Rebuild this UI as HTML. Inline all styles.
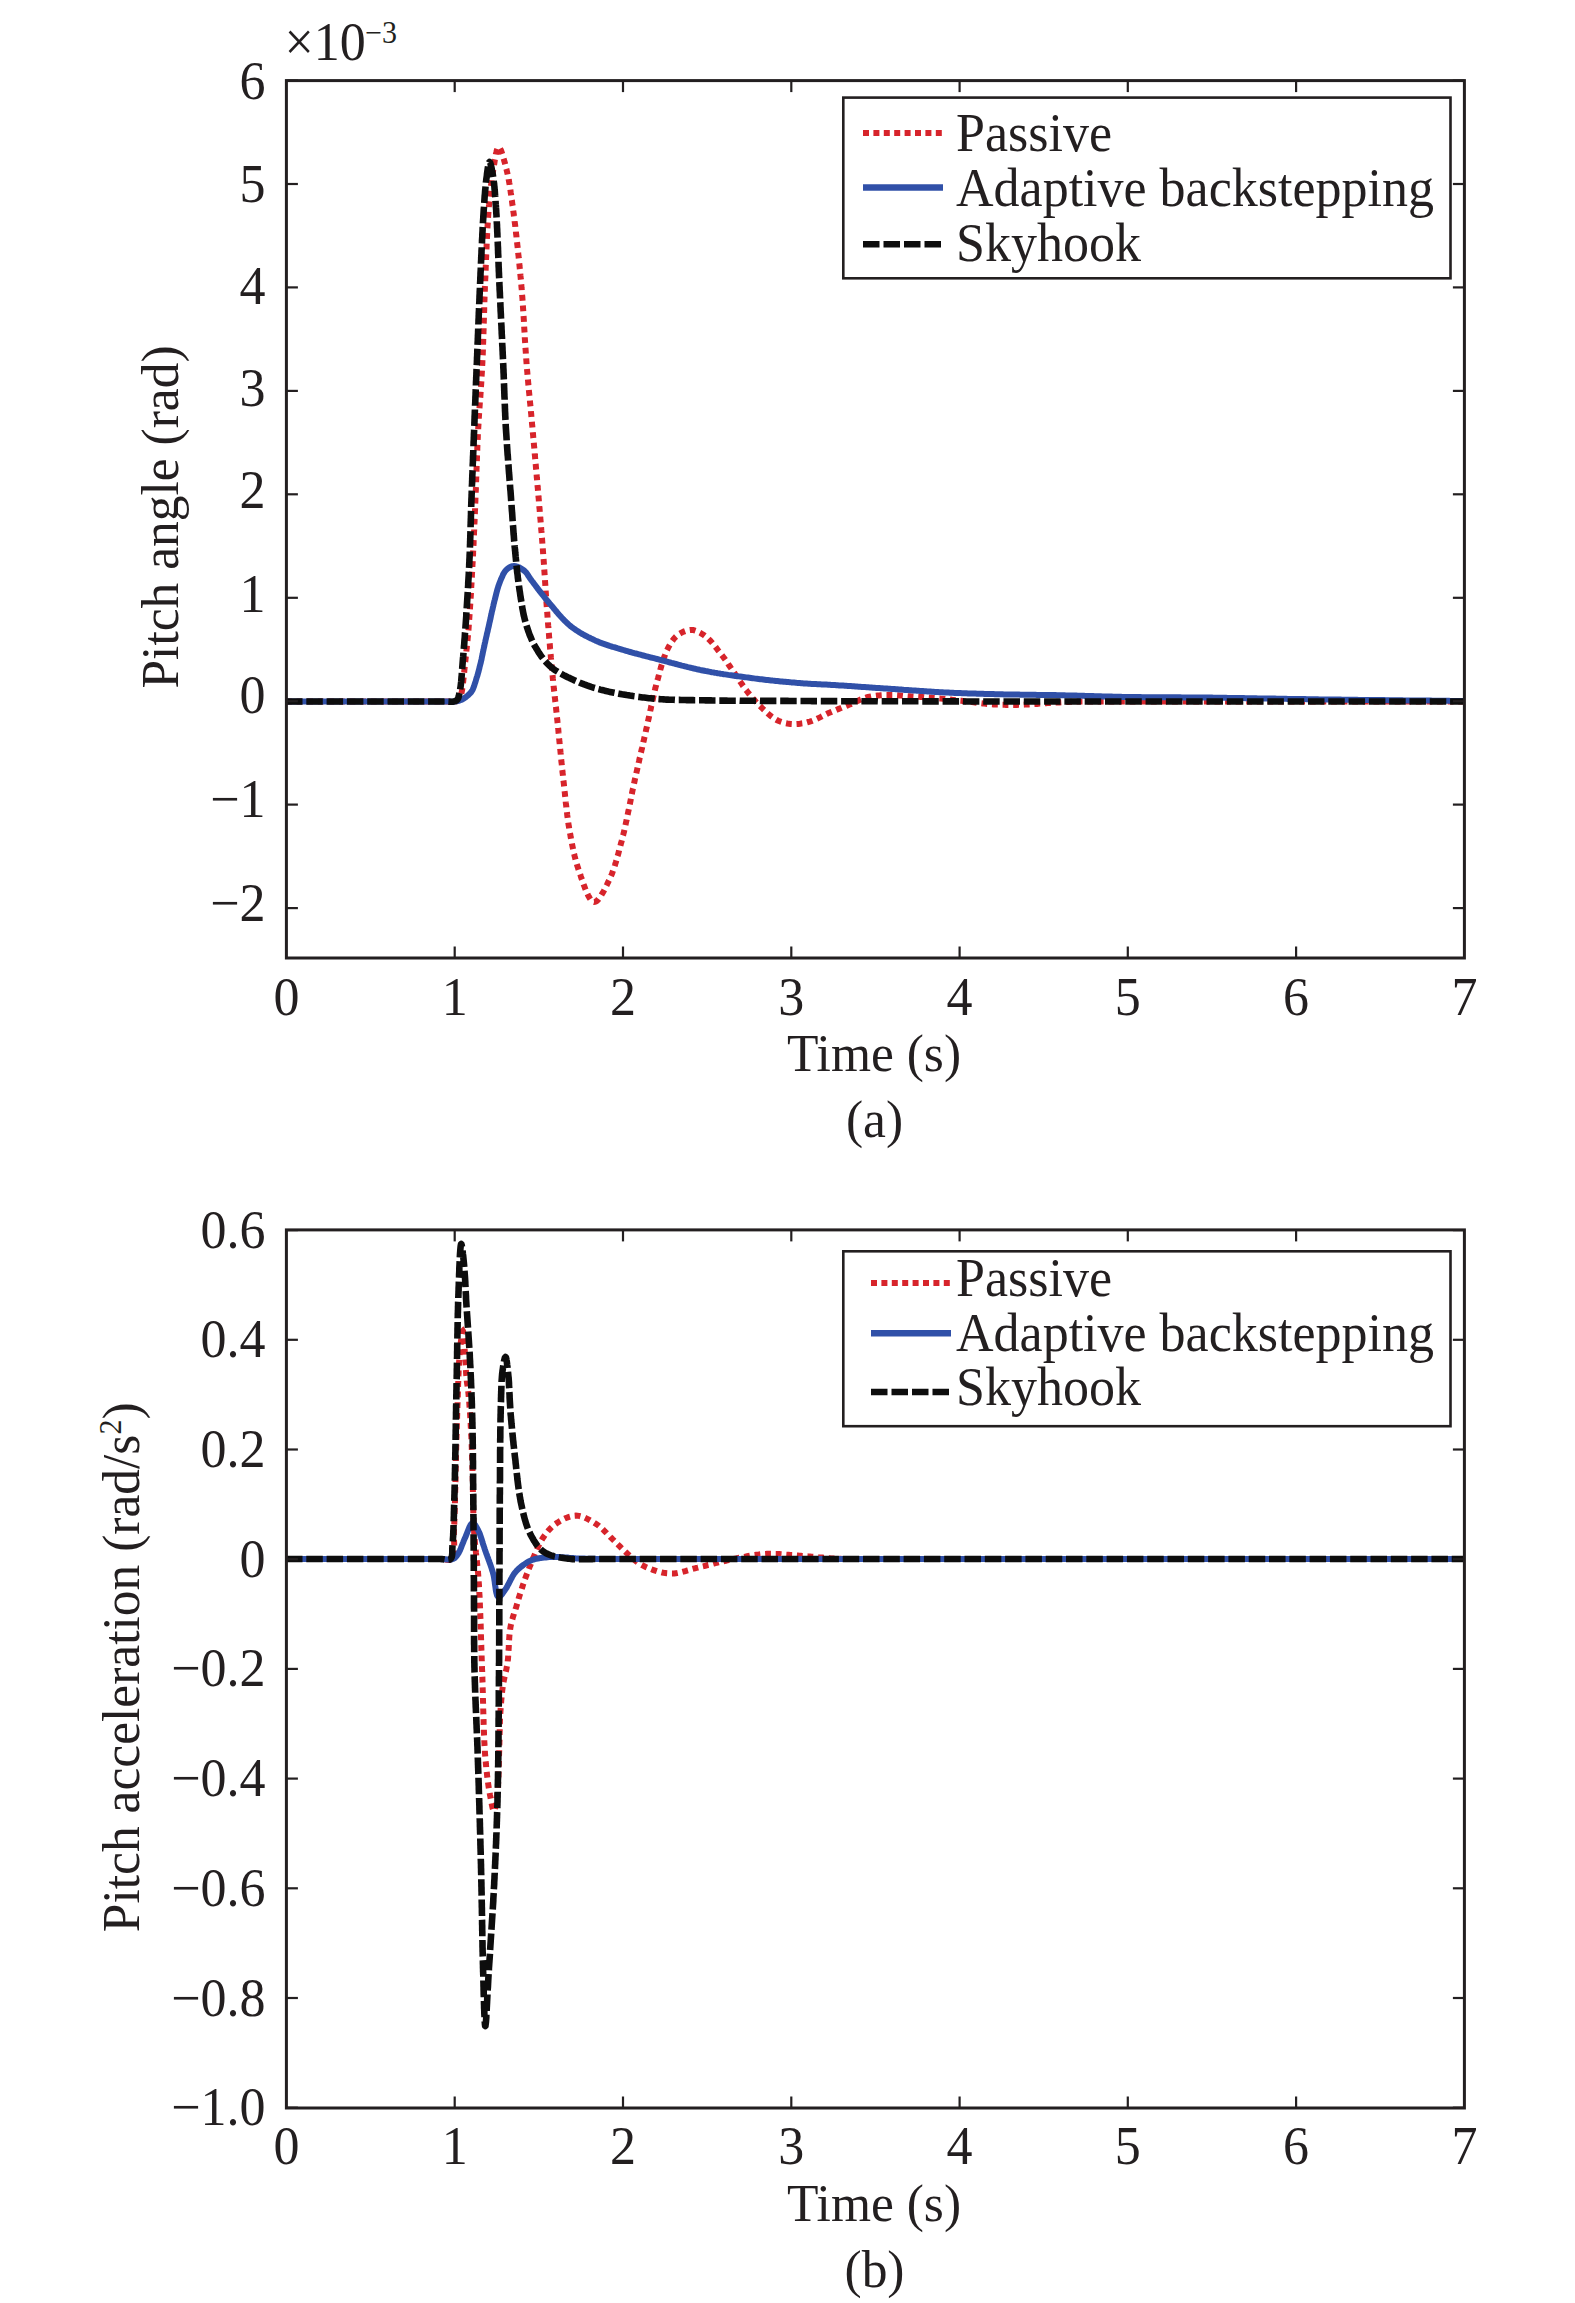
<!DOCTYPE html><html><head><meta charset="utf-8"><style>html,body{margin:0;padding:0;background:#fff;}svg{display:block;}text{font-family:"Liberation Serif",serif;fill:#231f20;}</style></head><body>
<svg width="1575" height="2303" viewBox="0 0 1575 2303">
<path d="M286,701.5L287.5,701.5 289,701.5 290.6,701.5 292.1,701.5 293.7,701.5 295.3,701.5 296.9,701.5 298.5,701.5 300.1,701.5 301.7,701.5 303.4,701.5 305,701.5 306.7,701.5 308.3,701.5 310,701.5 311.7,701.5 313.4,701.5 315.1,701.5 316.8,701.5 318.5,701.5 320.3,701.5 322,701.5 323.7,701.5 325.5,701.5 327.2,701.5 328.9,701.5 330.7,701.5 332.4,701.5 334.2,701.5 336,701.5 337.7,701.5 339.5,701.5 341.2,701.5 343,701.5 344.7,701.5 346.5,701.5 348.2,701.5 350,701.5 351.7,701.5 353.5,701.5 355.2,701.5 356.9,701.5 358.7,701.5 360.4,701.5 362.1,701.5 363.8,701.5 365.5,701.5 367.2,701.5 368.9,701.5 370.6,701.5 372.3,701.5 373.9,701.5 375.6,701.5 377.2,701.5 378.8,701.5 380.5,701.5 382.1,701.5 383.7,701.5 385.2,701.5 386.8,701.5 388.4,701.5 389.9,701.5 391.4,701.5 392.9,701.5 394.4,701.5 395.9,701.5 397.3,701.5 398.8,701.5 400.2,701.5 401.6,701.5 403,701.5 404.4,701.5 405.7,701.5 407,701.5 408.3,701.5 409.6,701.5 410.9,701.5 412.1,701.5 413.3,701.5 414.5,701.5 415.7,701.5 416.8,701.5 418,701.5 419.1,701.5 420.1,701.5 421.2,701.5 422.2,701.5 423.2,701.5 424.1,701.5 425.1,701.5 426,701.5 426.8,701.5 427.7,701.5 428.5,701.5 429.3,701.5 430,701.5 432.1,701.5 434,701.5 435.7,701.5 437.2,701.5 438.6,701.5 439.9,701.5 441.2,701.5 442.4,701.5 443.7,701.5 445,701.5 446.7,701.5 448.5,701.6 450.2,701.8 451.8,701.8 453.4,701.9 454.8,701.8 456,701.5 458,700.5 459.5,699 460.2,697.8 460.7,696.3 461.1,694.7 461.5,693 461.8,691.5 462.1,690 462.3,688.3 462.6,686.6 462.8,684.8 463,683 463.2,681.6 463.3,680.2 463.5,678.7 463.7,677.2 463.8,675.7 464,674.1 464.2,672.4 464.3,670.7 464.5,668.9 464.7,667 464.8,665.8 465,664.6 465.1,663.3 465.2,662 465.4,660.7 465.5,659.4 465.7,658 465.8,656.6 466,655.2 466.1,653.7 466.3,652.2 466.4,650.7 466.6,649.2 466.8,647.6 466.9,646.1 467.1,644.5 467.2,642.9 467.4,641.3 467.6,639.7 467.7,638 467.9,636.4 468,634.7 468.2,633.1 468.3,631.4 468.5,629.7 468.6,628 468.7,626.7 468.8,625.3 468.9,624 469,622.6 469.1,621.2 469.2,619.8 469.3,618.4 469.4,616.9 469.5,615.5 469.6,614 469.7,612.5 469.8,611.1 469.9,609.6 470,608.1 470.1,606.6 470.2,605 470.3,603.5 470.4,602 470.5,600.4 470.6,598.9 470.7,597.3 470.8,595.8 470.9,594.2 471,592.6 471.1,591.1 471.2,589.5 471.2,587.9 471.3,586.3 471.4,584.8 471.5,583.2 471.6,581.6 471.7,580 471.8,578.5 471.9,576.9 471.9,575.3 472,573.8 472.1,572.2 472.2,570.7 472.3,569.1 472.4,567.6 472.4,566 472.5,564.5 472.6,563 472.7,561.5 472.8,560 472.8,558.5 472.9,557 473,555.4 473.1,553.9 473.1,552.4 473.2,550.9 473.3,549.4 473.4,547.9 473.4,546.4 473.5,544.9 473.6,543.4 473.6,541.8 473.7,540.3 473.8,538.8 473.8,537.3 473.9,535.8 474,534.3 474,532.8 474.1,531.3 474.2,529.7 474.2,528.2 474.3,526.7 474.4,525.2 474.4,523.7 474.5,522.2 474.6,520.7 474.6,519.2 474.7,517.7 474.8,516.1 474.8,514.6 474.9,513.1 474.9,511.6 475,510.1 475.1,508.6 475.1,507.1 475.2,505.6 475.2,504 475.3,502.5 475.4,501 475.4,499.5 475.5,498 475.6,496.5 475.6,495 475.7,493.5 475.7,492 475.8,490.5 475.9,488.9 475.9,487.4 476,485.9 476,484.4 476.1,482.9 476.1,481.4 476.2,479.9 476.2,478.4 476.3,476.9 476.3,475.4 476.4,473.9 476.4,472.4 476.5,470.9 476.5,469.4 476.6,467.9 476.6,466.4 476.7,464.9 476.8,463.4 476.8,461.9 476.9,460.3 476.9,458.8 477,457.3 477,455.8 477.1,454.3 477.1,452.8 477.2,451.3 477.3,449.8 477.3,448.2 477.4,446.7 477.4,445.2 477.5,443.7 477.6,442.2 477.6,440.6 477.7,439.1 477.8,437.6 477.8,436.1 477.9,434.5 478,433 478.1,431.5 478.2,430 478.2,428.6 478.3,427.1 478.4,425.6 478.5,424.1 478.6,422.7 478.7,421.2 478.8,419.7 478.8,418.2 478.9,416.7 479,415.3 479.1,413.8 479.2,412.3 479.3,410.8 479.4,409.3 479.5,407.8 479.6,406.3 479.7,404.9 479.8,403.4 479.9,401.9 480,400.4 480.1,398.9 480.3,397.4 480.4,395.9 480.5,394.4 480.6,392.9 480.7,391.4 480.8,389.9 480.9,388.4 481,386.9 481.1,385.4 481.2,383.9 481.3,382.4 481.4,380.8 481.4,379.3 481.5,377.8 481.6,376.3 481.7,374.8 481.8,373.2 481.9,371.7 482,370.2 482.1,368.6 482.1,367.1 482.2,365.5 482.3,364 482.4,362.5 482.4,361.1 482.5,359.6 482.6,358.2 482.6,356.7 482.7,355.2 482.8,353.7 482.8,352.3 482.9,350.8 482.9,349.3 483,347.8 483,346.3 483.1,344.8 483.1,343.3 483.2,341.9 483.2,340.4 483.3,338.9 483.3,337.4 483.4,335.9 483.4,334.4 483.5,332.8 483.5,331.3 483.6,329.8 483.6,328.3 483.7,326.8 483.7,325.3 483.7,323.8 483.8,322.3 483.8,320.8 483.9,319.2 483.9,317.7 484,316.2 484,314.7 484.1,313.2 484.1,311.7 484.2,310.2 484.2,308.6 484.2,307.1 484.3,305.6 484.3,304.1 484.4,302.6 484.4,301.1 484.5,299.6 484.5,298 484.6,296.5 484.7,295 484.7,293.5 484.8,292 484.8,290.5 484.9,289 484.9,287.5 485,286 485.1,284.5 485.1,283 485.2,281.5 485.2,279.9 485.3,278.4 485.4,276.8 485.4,275.3 485.5,273.7 485.6,272.2 485.6,270.6 485.7,269 485.7,267.4 485.8,265.9 485.9,264.3 485.9,262.7 486,261.1 486,259.5 486.1,257.9 486.2,256.4 486.2,254.8 486.3,253.2 486.4,251.6 486.4,250 486.5,248.5 486.6,246.9 486.6,245.3 486.7,243.8 486.8,242.2 486.8,240.6 486.9,239.1 487,237.6 487.1,236 487.1,234.5 487.2,233 487.3,231.5 487.4,230 487.4,228.5 487.5,227.1 487.6,225.6 487.7,224.2 487.8,222.7 487.9,221.3 487.9,219.9 488,218.5 488.1,217.1 488.2,215.8 488.3,214.4 488.4,213.1 488.5,211.8 488.6,210.5 488.7,209.3 488.8,208 488.9,206.3 489.1,204.5 489.2,202.8 489.4,201.1 489.5,199.5 489.7,197.8 489.9,196.2 490,194.6 490.2,193.1 490.3,191.5 490.5,190 490.7,188.4 490.8,186.9 491,185.5 491.2,184 491.4,182.6 491.6,181.1 491.7,179.7 491.9,178.3 492.1,176.9 492.3,175.6 492.5,174.2 492.7,172.9 493,171.6 493.2,170.3 493.4,169 493.7,167.3 494,165.4 494.3,163.5 494.6,161.5 494.9,159.6 495.3,157.7 495.6,155.8 495.9,154 496.3,152.4 496.6,150.9 497,149.6 497.4,148.5 497.8,147.7 498.2,147.2 498.6,147 499.1,147.2 499.5,147.6 500,148.4 500.6,149.5 501.1,150.8 501.7,152.2 502.2,153.9 502.8,155.7 503.3,157.6 503.9,159.5 504.4,161.5 505,163.4 505.5,165.4 505.9,167.2 506.4,169 506.7,170.3 507,171.6 507.3,172.9 507.6,174.2 507.9,175.6 508.2,176.9 508.5,178.3 508.7,179.7 509,181.1 509.2,182.5 509.5,184 509.7,185.4 509.9,186.9 510.2,188.4 510.4,189.9 510.6,191.5 510.8,193 511.1,194.6 511.3,196.2 511.5,197.8 511.7,199.5 512,201.1 512.2,202.8 512.4,204.5 512.7,206.2 512.9,208 513.1,209.3 513.2,210.5 513.4,211.8 513.6,213.1 513.8,214.4 513.9,215.8 514.1,217.1 514.3,218.5 514.5,219.9 514.6,221.3 514.8,222.7 515,224.2 515.2,225.6 515.3,227.1 515.5,228.5 515.7,230 515.9,231.5 516,233 516.2,234.5 516.4,236 516.5,237.6 516.7,239.1 516.9,240.6 517.1,242.2 517.2,243.7 517.4,245.3 517.6,246.9 517.7,248.4 517.9,250 518.1,251.6 518.2,253.2 518.4,254.8 518.6,256.3 518.7,257.9 518.9,259.5 519.1,261.1 519.2,262.7 519.4,264.3 519.5,265.9 519.7,267.4 519.8,269 520,270.6 520.1,272.2 520.3,273.7 520.4,275.3 520.6,276.8 520.7,278.4 520.9,279.9 521,281.5 521.1,283 521.3,284.5 521.4,286 521.5,287.5 521.7,289 521.8,290.5 521.9,292 522,293.5 522.1,295.1 522.3,296.6 522.4,298.1 522.5,299.6 522.6,301.2 522.7,302.7 522.8,304.2 522.9,305.7 523,307.3 523.1,308.8 523.2,310.3 523.3,311.9 523.4,313.4 523.5,315 523.6,316.5 523.7,318 523.8,319.6 523.9,321.1 524,322.6 524,324.1 524.1,325.7 524.2,327.2 524.3,328.7 524.4,330.2 524.5,331.8 524.6,333.3 524.7,334.8 524.8,336.3 524.8,337.8 524.9,339.3 525,340.8 525.1,342.3 525.2,343.8 525.3,345.3 525.4,346.7 525.5,348.2 525.6,349.7 525.7,351.1 525.8,352.6 525.9,354.1 526,355.5 526.1,356.9 526.2,358.4 526.3,359.8 526.4,361.2 526.5,362.6 526.6,364 526.7,365.6 526.9,367.2 527,368.8 527.1,370.4 527.3,372 527.4,373.5 527.5,375.1 527.7,376.6 527.8,378.2 527.9,379.7 528.1,381.2 528.2,382.7 528.3,384.2 528.5,385.7 528.6,387.2 528.8,388.7 528.9,390.2 529,391.7 529.2,393.2 529.3,394.7 529.5,396.1 529.6,397.6 529.7,399.1 529.9,400.6 530,402.1 530.2,403.5 530.3,405 530.5,406.5 530.6,408 530.7,409.5 530.9,410.9 531,412.4 531.2,413.9 531.3,415.4 531.4,416.9 531.6,418.4 531.7,420 531.9,421.5 532,423 532.1,424.5 532.3,426 532.4,427.5 532.5,429 532.7,430.5 532.8,432 532.9,433.5 533.1,435 533.2,436.5 533.3,438 533.5,439.5 533.6,441 533.8,442.5 533.9,444 534,445.5 534.2,447 534.3,448.5 534.4,450 534.6,451.5 534.7,453.1 534.8,454.6 535,456.1 535.1,457.6 535.2,459.1 535.4,460.6 535.5,462.1 535.6,463.7 535.8,465.2 535.9,466.7 536,468.2 536.2,469.7 536.3,471.3 536.4,472.8 536.6,474.3 536.7,475.8 536.8,477.4 537,478.9 537.1,480.4 537.2,481.9 537.4,483.5 537.5,485 537.6,486.5 537.8,488 537.9,489.5 538,491 538.1,492.5 538.3,494 538.4,495.5 538.5,497 538.7,498.5 538.8,500 538.9,501.5 539,503 539.2,504.5 539.3,506 539.4,507.6 539.6,509.1 539.7,510.6 539.8,512.1 540,513.6 540.1,515.1 540.2,516.6 540.3,518.2 540.5,519.7 540.6,521.2 540.7,522.7 540.8,524.2 541,525.7 541.1,527.3 541.2,528.8 541.3,530.3 541.5,531.8 541.6,533.3 541.7,534.8 541.8,536.4 542,537.9 542.1,539.4 542.2,540.9 542.3,542.4 542.4,543.9 542.6,545.5 542.7,547 542.8,548.5 542.9,550 543,551.5 543.1,553 543.2,554.5 543.3,556.1 543.5,557.6 543.6,559.1 543.7,560.6 543.8,562.1 543.9,563.6 544,565.2 544.1,566.7 544.2,568.2 544.3,569.7 544.4,571.3 544.5,572.8 544.6,574.3 544.7,575.8 544.8,577.3 544.9,578.9 545,580.4 545.1,581.9 545.2,583.4 545.3,584.9 545.4,586.5 545.5,588 545.6,589.5 545.7,591 545.8,592.5 545.9,594 546,595.5 546.1,597.1 546.2,598.6 546.3,600.1 546.4,601.6 546.5,603.1 546.6,604.6 546.7,606.1 546.8,607.6 547,609.1 547.1,610.5 547.2,612 547.3,613.5 547.4,615 547.5,616.5 547.6,618.1 547.8,619.6 547.9,621.1 548,622.7 548.1,624.2 548.2,625.8 548.4,627.3 548.5,628.9 548.6,630.4 548.7,632 548.9,633.5 549,635 549.1,636.6 549.2,638.1 549.4,639.7 549.5,641.2 549.6,642.7 549.8,644.3 549.9,645.8 550,647.3 550.1,648.8 550.3,650.3 550.4,651.8 550.5,653.3 550.7,654.8 550.8,656.3 550.9,657.8 551.1,659.3 551.2,660.8 551.3,662.2 551.4,663.7 551.6,665.1 551.7,666.6 551.8,668 552,669.4 552.1,670.8 552.2,672.2 552.4,673.6 552.5,675 552.7,676.7 552.8,678.3 553,679.9 553.1,681.4 553.3,683 553.5,684.5 553.6,686.1 553.8,687.6 553.9,689.1 554.1,690.6 554.3,692 554.4,693.5 554.6,695 554.7,696.4 554.9,697.9 555.1,699.4 555.2,700.9 555.4,702.3 555.6,703.8 555.7,705.3 555.9,706.8 556.1,708.4 556.2,709.9 556.4,711.5 556.6,713.1 556.8,714.7 556.9,716.3 557.1,718 557.2,719.4 557.4,720.7 557.5,722.1 557.7,723.6 557.8,725 558,726.4 558.1,727.9 558.3,729.3 558.4,730.8 558.5,732.3 558.7,733.8 558.8,735.3 559,736.8 559.1,738.4 559.3,739.9 559.4,741.4 559.6,743 559.7,744.5 559.9,746.1 560.1,747.6 560.2,749.2 560.4,750.7 560.5,752.3 560.7,753.8 560.8,755.4 561,757 561.1,758.5 561.3,760.1 561.4,761.6 561.6,763.1 561.8,764.7 561.9,766.2 562.1,767.7 562.2,769.2 562.4,770.7 562.5,772.2 562.7,773.7 562.9,775.2 563,776.7 563.2,778.1 563.3,779.6 563.5,781 563.7,782.6 563.9,784.2 564,785.7 564.2,787.3 564.4,788.9 564.5,790.4 564.7,792 564.9,793.5 565,795.1 565.2,796.6 565.4,798.2 565.5,799.7 565.7,801.3 565.8,802.8 566,804.3 566.2,805.8 566.4,807.3 566.5,808.8 566.7,810.3 566.9,811.8 567.1,813.3 567.2,814.8 567.4,816.3 567.6,817.7 567.8,819.2 568,820.7 568.2,822.1 568.4,823.5 568.6,825 568.9,826.4 569.1,827.8 569.3,829.2 569.6,830.6 569.8,832 570.1,833.6 570.4,835.1 570.6,836.7 570.9,838.2 571.2,839.8 571.5,841.3 571.8,842.8 572.1,844.3 572.4,845.8 572.7,847.3 573,848.7 573.3,850.2 573.6,851.7 573.9,853.1 574.3,854.6 574.6,856 575,857.4 575.3,858.8 575.7,860.3 576.1,861.7 576.5,863.1 576.9,864.5 577.3,865.9 577.8,867.2 578.2,868.6 578.7,870 579.2,871.5 579.8,873.1 580.4,874.8 580.9,876.6 581.5,878.4 582.2,880.2 582.8,882 583.4,883.9 584.1,885.7 584.8,887.5 585.4,889.2 586.1,890.9 586.8,892.6 587.5,894.1 588.2,895.6 589,896.9 589.7,898.1 590.4,899.2 591.1,900.1 591.8,900.9 592.6,901.5 593.3,901.8 594,902 594.9,901.9 595.7,901.6 596.6,901 597.5,900.2 598.5,899.2 599.4,898 600.4,896.7 601.3,895.2 602.2,893.6 603.2,892 604.1,890.3 605,888.5 605.9,886.8 606.8,885 607.6,883.3 608.4,881.6 609.2,880 609.8,878.8 610.4,877.5 610.9,876.2 611.5,874.9 612,873.6 612.5,872.2 613,870.8 613.5,869.4 614,868 614.5,866.6 615,865.1 615.4,863.6 615.9,862.1 616.3,860.6 616.8,859.1 617.2,857.6 617.6,856 618.1,854.5 618.5,852.9 618.9,851.3 619.3,849.7 619.8,848.1 620.2,846.5 620.6,844.9 621,843.3 621.5,841.6 621.9,840 622.3,838.7 622.6,837.3 622.9,835.9 623.3,834.6 623.6,833.2 624,831.8 624.3,830.3 624.6,828.9 625,827.4 625.3,826 625.6,824.5 625.9,823 626.2,821.6 626.6,820.1 626.9,818.6 627.2,817 627.5,815.5 627.8,814 628.1,812.5 628.4,811 628.8,809.4 629.1,807.9 629.4,806.4 629.7,804.8 630,803.3 630.3,801.8 630.6,800.3 630.9,798.7 631.2,797.2 631.5,795.7 631.8,794.2 632.1,792.7 632.4,791.2 632.7,789.7 633.1,788.2 633.4,786.8 633.7,785.3 634,783.9 634.3,782.4 634.6,781 634.9,779.5 635.3,777.9 635.6,776.4 636,774.9 636.3,773.4 636.6,771.8 637,770.3 637.3,768.8 637.6,767.3 638,765.9 638.3,764.4 638.6,762.9 639,761.4 639.3,759.9 639.6,758.4 640,757 640.3,755.5 640.6,754 641,752.6 641.3,751.1 641.6,749.6 642,748.2 642.3,746.7 642.7,745.2 643,743.8 643.3,742.3 643.7,740.8 644,739.4 644.3,737.9 644.7,736.4 645,734.9 645.3,733.5 645.7,732 646,730.5 646.3,729 646.7,727.5 647,726 647.3,724.5 647.7,723 648,721.4 648.3,719.9 648.7,718.3 649,716.8 649.3,715.3 649.7,713.7 650,712.2 650.3,710.6 650.7,709.1 651,707.5 651.3,706 651.7,704.5 652,702.9 652.3,701.4 652.7,699.9 653,698.4 653.3,696.9 653.7,695.4 654,693.9 654.4,692.5 654.7,691 655,689.6 655.4,688.1 655.7,686.7 656.1,685.4 656.4,684 656.8,682.6 657.1,681.3 657.5,680 658,678.3 658.4,676.7 658.9,675 659.3,673.4 659.7,671.8 660.2,670.2 660.6,668.6 661.1,667 661.5,665.4 662,663.9 662.4,662.4 662.9,660.9 663.4,659.5 663.9,658 664.4,656.6 664.9,655.3 665.4,653.9 665.9,652.6 666.5,651.4 667,650.2 667.6,649 668.4,647.4 669.2,645.9 670.1,644.4 670.9,643 671.8,641.6 672.7,640.4 673.6,639.1 674.6,638 675.6,636.9 676.7,635.9 677.8,635 679.2,634 680.6,633.2 682.1,632.4 683.7,631.6 685.3,631 686.9,630.6 688.5,630.2 690.1,630 691.7,630 693.1,630.1 694.5,630.4 696,630.9 697.4,631.4 698.8,632.1 700.2,632.8 701.6,633.7 703,634.6 704.4,635.5 705.7,636.5 706.8,637.4 707.9,638.3 708.9,639.3 710,640.4 711,641.5 712.1,642.7 713.1,643.9 714.1,645.2 715.1,646.4 716.1,647.7 717.1,649 718.1,650.3 719.1,651.5 720.1,652.8 721,654 722,655.3 722.9,656.5 723.9,657.8 724.8,659 725.7,660.3 726.6,661.6 727.5,662.9 728.3,664.2 729.2,665.5 730.1,666.8 731,668.1 731.9,669.4 732.8,670.7 733.7,672 734.6,673.2 735.4,674.5 736.3,675.7 737.1,677 738,678.3 738.8,679.6 739.7,680.9 740.5,682.1 741.4,683.4 742.3,684.7 743.1,686 744,687.2 744.9,688.4 745.8,689.7 746.7,690.8 747.6,692 748.6,693.3 749.7,694.6 750.7,695.9 751.8,697.1 752.8,698.3 753.9,699.6 755,700.8 756,701.9 757.1,703.1 758.2,704.3 759.3,705.4 760.5,706.5 761.6,707.6 762.7,708.7 763.8,709.7 765,710.8 766.1,711.9 767.2,712.9 768.4,714 769.6,715 770.7,716 771.9,716.9 773.1,717.8 774.3,718.6 775.6,719.3 776.8,720 778.3,720.7 779.7,721.3 781.2,721.9 782.7,722.4 784.3,722.8 785.8,723.2 787.4,723.5 788.9,723.7 790.5,723.9 792.1,724 793.7,724.1 795.2,724.1 796.8,724 798.4,723.9 800,723.7 801.6,723.4 803.3,723.2 804.9,722.8 806.5,722.5 808.2,722 809.8,721.6 811.2,721.2 812.7,720.6 814.1,720.1 815.5,719.5 817,718.8 818.4,718.1 819.9,717.4 821.3,716.7 822.8,715.9 824.2,715.2 825.7,714.5 827.1,713.8 828.6,713.1 830,712.5 831.5,711.9 832.9,711.3 834.4,710.7 835.9,710.1 837.3,709.5 838.8,708.9 840.3,708.3 841.7,707.7 843.2,707.1 844.6,706.6 846.1,706 847.5,705.4 849,704.8 850.5,704.2 851.9,703.5 853.3,702.9 854.8,702.2 856.2,701.5 857.6,700.9 859.1,700.2 860.5,699.6 862,699 863.5,698.4 865,697.9 866.5,697.4 868,697 869.5,696.7 871.1,696.4 872.6,696.1 874.2,695.9 875.8,695.7 877.4,695.5 879.1,695.4 880.7,695.3 882.3,695.2 883.9,695.1 885.5,695.1 887,695.1 888.5,695 890,695 891.7,695 893.3,695 894.8,695.1 896.4,695.2 897.9,695.3 899.4,695.5 900.9,695.6 902.5,695.7 904.2,695.9 906,696 907.3,696.1 908.7,696.2 910.1,696.3 911.6,696.4 913,696.4 914.5,696.5 916.1,696.6 917.6,696.7 919.2,696.8 920.8,696.9 922.4,697 924,697.2 925.6,697.3 927.2,697.4 928.8,697.5 930.4,697.6 931.9,697.7 933.5,697.9 935,698 936.6,698.1 938.1,698.3 939.7,698.4 941.2,698.6 942.8,698.8 944.4,698.9 945.9,699.1 947.5,699.3 949,699.4 950.6,699.6 952.1,699.8 953.7,699.9 955.2,700.1 956.8,700.3 958.3,700.5 959.9,700.7 961.4,700.8 963,701 964.5,701.2 966,701.4 967.6,701.5 969.1,701.7 970.6,701.9 972.1,702.1 973.7,702.3 975.2,702.5 976.7,702.7 978.3,702.9 979.8,703.1 981.3,703.3 982.9,703.5 984.4,703.6 985.9,703.8 987.4,703.9 989,704.1 990.5,704.2 992,704.3 993.6,704.4 995.1,704.5 996.7,704.6 998.2,704.6 999.8,704.7 1001.3,704.8 1002.9,704.8 1004.4,704.8 1006,704.9 1007.5,704.9 1009.1,704.9 1010.6,704.9 1012.2,704.9 1013.8,704.9 1015.3,704.9 1016.9,704.9 1018.4,704.8 1020,704.8 1021.5,704.8 1023,704.7 1024.6,704.6 1026.1,704.6 1027.6,704.5 1029.1,704.4 1030.6,704.3 1032.2,704.2 1033.7,704.1 1035.2,704 1036.8,703.9 1038.3,703.7 1039.8,703.6 1041.4,703.5 1042.9,703.4 1044.4,703.3 1045.9,703.2 1047.5,703.1 1049,703 1050.5,702.9 1052,702.8 1053.6,702.7 1055.1,702.6 1056.6,702.5 1058.1,702.5 1059.6,702.4 1061.1,702.3 1062.7,702.2 1064.2,702.1 1065.7,702 1067.2,701.9 1068.7,701.9 1070.3,701.8 1071.8,701.7 1073.3,701.7 1074.9,701.6 1076.4,701.5 1078,701.5 1079.5,701.5 1080.8,701.4 1082.2,701.4 1083.5,701.4 1084.8,701.4 1086,701.4 1087.3,701.4 1088.5,701.4 1089.8,701.4 1091.1,701.4 1092.4,701.4 1093.8,701.4 1095.2,701.4 1096.7,701.4 1098.3,701.5 1100,701.5 1101.7,701.5 1103.6,701.5 1105.6,701.5 1107.7,701.5 1110,701.5 1110.7,701.5 1111.4,701.5 1112.1,701.5 1112.9,701.5 1113.6,701.5 1114.4,701.5 1115.2,701.5 1116,701.5 1116.8,701.5 1117.6,701.5 1118.4,701.5 1119.3,701.5 1120.1,701.5 1121,701.5 1121.9,701.5 1122.8,701.5 1123.7,701.5 1124.6,701.5 1125.5,701.5 1126.5,701.5 1127.4,701.5 1128.4,701.5 1129.4,701.5 1130.4,701.5 1131.4,701.5 1132.4,701.5 1133.4,701.5 1134.5,701.5 1135.5,701.5 1136.6,701.5 1137.6,701.5 1138.7,701.5 1139.8,701.5 1140.9,701.5 1142,701.5 1143.1,701.5 1144.3,701.5 1145.4,701.5 1146.6,701.5 1147.7,701.5 1148.9,701.5 1150.1,701.5 1151.3,701.5 1152.5,701.5 1153.7,701.5 1155,701.5 1156.2,701.5 1157.4,701.5 1158.7,701.5 1160,701.5 1161.2,701.5 1162.5,701.5 1163.8,701.5 1165.1,701.5 1166.4,701.5 1167.7,701.5 1169.1,701.5 1170.4,701.5 1171.7,701.5 1173.1,701.5 1174.4,701.5 1175.8,701.5 1177.2,701.5 1178.6,701.5 1180,701.5 1181.4,701.5 1182.8,701.5 1184.2,701.5 1185.6,701.5 1187.1,701.5 1188.5,701.5 1190,701.5 1191.4,701.5 1192.9,701.5 1194.3,701.5 1195.8,701.5 1197.3,701.5 1198.8,701.5 1200.3,701.5 1201.8,701.5 1203.3,701.5 1204.8,701.5 1206.4,701.5 1207.9,701.5 1209.4,701.5 1211,701.5 1212.5,701.5 1214.1,701.5 1215.7,701.5 1217.2,701.5 1218.8,701.5 1220.4,701.5 1222,701.5 1223.6,701.5 1225.2,701.5 1226.8,701.5 1228.4,701.5 1230,701.5 1231.6,701.5 1233.2,701.5 1234.8,701.5 1236.5,701.5 1238.1,701.5 1239.8,701.5 1241.4,701.5 1243.1,701.5 1244.7,701.5 1246.4,701.5 1248,701.5 1249.7,701.5 1251.4,701.5 1253.1,701.5 1254.7,701.5 1256.4,701.5 1258.1,701.5 1259.8,701.5 1261.5,701.5 1263.2,701.5 1264.9,701.5 1266.6,701.5 1268.3,701.5 1270,701.5 1271.8,701.5 1273.5,701.5 1275.2,701.5 1276.9,701.5 1278.7,701.5 1280.4,701.5 1282.1,701.5 1283.8,701.5 1285.6,701.5 1287.3,701.5 1289.1,701.5 1290.8,701.5 1292.6,701.5 1294.3,701.5 1296.1,701.5 1297.8,701.5 1299.6,701.5 1301.3,701.5 1303.1,701.5 1304.8,701.5 1306.6,701.5 1308.4,701.5 1310.1,701.5 1311.9,701.5 1313.6,701.5 1315.4,701.5 1317.2,701.5 1318.9,701.5 1320.7,701.5 1322.5,701.5 1324.2,701.5 1326,701.5 1327.8,701.5 1329.5,701.5 1331.3,701.5 1333.1,701.5 1334.8,701.5 1336.6,701.5 1338.4,701.5 1340.2,701.5 1341.9,701.5 1343.7,701.5 1345.5,701.5 1347.2,701.5 1349,701.5 1350.8,701.5 1352.5,701.5 1354.3,701.5 1356,701.5 1357.8,701.5 1359.6,701.5 1361.3,701.5 1363.1,701.5 1364.8,701.5 1366.6,701.5 1368.3,701.5 1370.1,701.5 1371.8,701.5 1373.6,701.5 1375.3,701.5 1377.1,701.5 1378.8,701.5 1380.5,701.5 1382.3,701.5 1384,701.5 1385.7,701.5 1387.5,701.5 1389.2,701.5 1390.9,701.5 1392.6,701.5 1394.3,701.5 1396,701.5 1397.8,701.5 1399.5,701.5 1401.2,701.5 1402.9,701.5 1404.6,701.5 1406.2,701.5 1407.9,701.5 1409.6,701.5 1411.3,701.5 1413,701.5 1414.6,701.5 1416.3,701.5 1418,701.5 1419.6,701.5 1421.3,701.5 1422.9,701.5 1424.6,701.5 1426.2,701.5 1427.9,701.5 1429.5,701.5 1431.1,701.5 1432.7,701.5 1434.4,701.5 1436,701.5 1437.6,701.5 1439.2,701.5 1440.8,701.5 1442.4,701.5 1444,701.5 1445.5,701.5 1447.1,701.5 1448.7,701.5 1450.2,701.5 1451.8,701.5 1453.3,701.5 1454.9,701.5 1456.4,701.5 1457.9,701.5 1459.5,701.5 1461,701.5 1462.5,701.5 1464,701.5" fill="none" stroke="#d7242b" stroke-width="6" stroke-dasharray="5.8 4.8"/>
<path d="M286,701.5L287.5,701.5 289,701.5 290.6,701.5 292.1,701.5 293.7,701.5 295.3,701.5 296.9,701.5 298.5,701.5 300.1,701.5 301.7,701.5 303.4,701.5 305,701.5 306.7,701.5 308.3,701.5 310,701.5 311.7,701.5 313.4,701.5 315.1,701.5 316.8,701.5 318.5,701.5 320.3,701.5 322,701.5 323.7,701.5 325.5,701.5 327.2,701.5 328.9,701.5 330.7,701.5 332.4,701.5 334.2,701.5 336,701.5 337.7,701.5 339.5,701.5 341.2,701.5 343,701.5 344.7,701.5 346.5,701.5 348.2,701.5 350,701.5 351.7,701.5 353.5,701.5 355.2,701.5 356.9,701.5 358.7,701.5 360.4,701.5 362.1,701.5 363.8,701.5 365.5,701.5 367.2,701.5 368.9,701.5 370.6,701.5 372.3,701.5 373.9,701.5 375.6,701.5 377.2,701.5 378.8,701.5 380.5,701.5 382.1,701.5 383.7,701.5 385.2,701.5 386.8,701.5 388.4,701.5 389.9,701.5 391.4,701.5 392.9,701.5 394.4,701.5 395.9,701.5 397.3,701.5 398.8,701.5 400.2,701.5 401.6,701.5 403,701.5 404.4,701.5 405.7,701.5 407,701.5 408.3,701.5 409.6,701.5 410.9,701.5 412.1,701.5 413.3,701.5 414.5,701.5 415.7,701.5 416.8,701.5 418,701.5 419.1,701.5 420.1,701.5 421.2,701.5 422.2,701.5 423.2,701.5 424.1,701.5 425.1,701.5 426,701.5 426.8,701.5 427.7,701.5 428.5,701.5 429.3,701.5 430,701.5 432.1,701.5 434,701.5 435.7,701.5 437.3,701.5 438.6,701.5 440,701.5 441.2,701.5 442.4,701.5 443.7,701.5 445,701.5 446.8,701.5 448.6,701.6 450.3,701.6 451.9,701.7 453.5,701.6 455,701.5 456.6,701.3 458.2,700.9 459.6,700.5 461,700 462.7,699.2 464.4,698.2 466,697 467.2,696 468.5,694.9 469.7,693.7 470.9,692.4 471.9,691 472.7,689.7 473.3,688.2 473.9,686.7 474.4,685.1 474.9,683.4 475.5,681.7 476,680 476.4,678.7 476.8,677.3 477.3,675.9 477.7,674.5 478.1,673 478.5,671.6 478.9,670.1 479.3,668.6 479.6,667 480,665.5 480.4,664 480.8,662.5 481.1,660.9 481.5,659.4 481.8,657.8 482.1,656.2 482.5,654.6 482.8,653 483.1,651.4 483.5,649.8 483.8,648.2 484.2,646.6 484.5,645 484.8,643.4 485.2,641.9 485.5,640.3 485.9,638.8 486.2,637.2 486.6,635.7 486.9,634.1 487.3,632.6 487.7,631 488,629.3 488.4,627.7 488.8,626 489.1,624.6 489.4,623.1 489.8,621.6 490.1,620.1 490.5,618.5 490.8,616.9 491.1,615.3 491.5,613.7 491.8,612.1 492.2,610.6 492.6,609 492.9,607.4 493.3,605.9 493.6,604.3 494,602.9 494.3,601.4 494.7,600 495.1,598.4 495.5,596.8 495.9,595.2 496.3,593.6 496.7,592.1 497.1,590.5 497.5,589 498,587.6 498.4,586.1 498.9,584.7 499.4,583.3 499.9,582 500.5,580.5 501.1,578.9 501.8,577.4 502.5,575.9 503.1,574.4 503.9,573.1 504.7,571.8 505.5,570.7 506.4,569.7 507.8,568.5 509.3,567.5 510.9,566.7 512.5,566.2 514.2,566 515.6,566.2 517.2,566.6 518.8,567.2 520.4,568.1 521.9,569 523.3,570 524.6,571 525.8,572.1 526.7,573.3 527.6,574.5 528.4,575.9 529.4,577.4 530.5,579 531.2,579.9 532,581 532.8,582 533.6,583.2 534.5,584.3 535.4,585.5 536.4,586.8 537.3,588.1 538.3,589.4 539.3,590.7 540.4,592 541.4,593.4 542.5,594.7 543.5,596 544.6,597.4 545.6,598.7 546.7,600 547.8,601.3 548.8,602.5 549.8,603.7 550.8,604.8 551.8,606 552.8,607.2 553.8,608.5 554.8,609.7 555.8,610.9 556.9,612.1 557.9,613.3 558.9,614.5 560,615.7 561,616.9 562.1,618 563.2,619.2 564.3,620.3 565.4,621.4 566.5,622.5 567.6,623.5 568.8,624.6 569.9,625.6 571.1,626.5 572.3,627.5 573.6,628.4 574.9,629.3 576.2,630.2 577.5,631 578.8,631.9 580.1,632.7 581.4,633.5 582.8,634.2 584.1,635 585.5,635.7 586.9,636.4 588.2,637.1 589.6,637.8 591,638.5 592.4,639.1 593.8,639.8 595.1,640.4 596.5,641 598,641.6 599.4,642.3 600.9,642.8 602.3,643.4 603.8,643.9 605.2,644.4 606.7,644.9 608.1,645.4 609.6,645.9 611.1,646.3 612.6,646.8 614.1,647.2 615.6,647.7 617.2,648.2 618.7,648.6 620.4,649.1 622,649.6 623.3,650 624.7,650.4 626,650.8 627.4,651.2 628.8,651.6 630.2,652 631.6,652.4 633,652.8 634.5,653.2 635.9,653.5 637.4,653.9 638.9,654.3 640.4,654.7 641.8,655.1 643.3,655.5 644.8,655.9 646.4,656.3 647.9,656.7 649.4,657.1 650.9,657.5 652.4,657.8 653.9,658.2 655.5,658.6 657,659 658.5,659.4 660,659.8 661.4,660.2 662.9,660.5 664.3,660.9 665.8,661.3 667.2,661.7 668.6,662.1 670.1,662.5 671.6,662.9 673,663.2 674.5,663.6 675.9,664 677.4,664.4 678.9,664.8 680.3,665.2 681.8,665.6 683.3,665.9 684.8,666.3 686.3,666.7 687.8,667.1 689.3,667.4 690.8,667.8 692.3,668.1 693.8,668.5 695.3,668.8 696.8,669.2 698.4,669.5 699.9,669.9 701.4,670.2 703,670.5 704.4,670.8 705.9,671.1 707.3,671.3 708.8,671.6 710.2,671.9 711.7,672.2 713.2,672.4 714.7,672.7 716.2,672.9 717.6,673.2 719.1,673.4 720.6,673.7 722.1,673.9 723.7,674.2 725.2,674.4 726.7,674.6 728.2,674.9 729.7,675.1 731.2,675.3 732.7,675.5 734.3,675.8 735.8,676 737.3,676.2 738.8,676.4 740.4,676.6 741.9,676.8 743.4,677 744.9,677.2 746.4,677.4 748,677.6 749.5,677.8 751,678 752.5,678.2 754,678.4 755.5,678.6 757,678.8 758.6,679 760.1,679.2 761.7,679.3 763.2,679.5 764.8,679.7 766.4,679.9 767.9,680 769.5,680.2 771.1,680.4 772.7,680.6 774.3,680.7 775.9,680.9 777.5,681 779,681.2 780.6,681.4 782.2,681.5 783.7,681.7 785.3,681.8 786.8,682 788.3,682.1 789.8,682.2 791.3,682.4 792.8,682.5 794.2,682.6 795.7,682.7 797.1,682.9 798.5,683 799.8,683.1 801.2,683.2 802.5,683.3 803.7,683.4 805,683.5 806.8,683.6 808.5,683.7 810.1,683.8 811.6,683.9 813.1,684 814.6,684.1 816,684.1 817.4,684.2 818.8,684.3 820.3,684.3 821.7,684.4 823.2,684.5 824.8,684.5 826.4,684.6 828.2,684.7 830,684.8 831.2,684.9 832.5,684.9 833.7,685 835,685.1 836.4,685.2 837.7,685.3 839.1,685.4 840.5,685.5 841.9,685.5 843.3,685.6 844.8,685.7 846.3,685.8 847.8,685.9 849.3,686 850.8,686.1 852.4,686.2 853.9,686.3 855.5,686.5 857.1,686.6 858.6,686.7 860.2,686.8 861.8,686.9 863.4,687 865,687.1 866.6,687.2 868.2,687.3 869.8,687.4 871.4,687.5 873,687.7 874.6,687.8 876.2,687.9 877.8,688 879.3,688.1 880.9,688.2 882.4,688.3 884,688.4 885.5,688.5 887,688.6 888.5,688.7 890,688.8 891.5,688.9 893,689 894.5,689.1 896,689.2 897.5,689.3 899,689.4 900.5,689.5 902,689.6 903.5,689.8 905,689.9 906.5,690 908,690.1 909.5,690.2 911,690.3 912.5,690.4 914,690.5 915.5,690.6 917,690.7 918.5,690.8 920,690.9 921.5,691 923,691.1 924.5,691.2 926,691.3 927.5,691.4 929,691.5 930.5,691.6 932,691.7 933.5,691.8 935,691.9 936.5,692 938,692.1 939.5,692.2 941,692.2 942.5,692.3 944,692.4 945.5,692.5 947,692.5 948.5,692.6 950,692.7 951.5,692.8 953,692.8 954.5,692.9 956,692.9 957.5,693 959,693.1 960.5,693.1 962,693.2 963.5,693.2 965,693.3 966.5,693.3 968,693.4 969.5,693.4 971,693.5 972.5,693.5 974,693.6 975.5,693.6 977,693.7 978.5,693.7 980,693.8 981.5,693.8 983,693.8 984.5,693.9 986,693.9 987.5,694 989,694 990.5,694 992,694.1 993.5,694.1 995,694.2 996.5,694.2 998,694.2 999.5,694.3 1001,694.3 1002.5,694.3 1004,694.4 1005.5,694.4 1007,694.4 1008.5,694.5 1010,694.5 1011.5,694.5 1013,694.5 1014.5,694.6 1016,694.6 1017.5,694.6 1019,694.6 1020.4,694.7 1021.9,694.7 1023.4,694.7 1024.9,694.7 1026.4,694.7 1027.9,694.8 1029.4,694.8 1030.9,694.8 1032.4,694.8 1033.9,694.8 1035.4,694.8 1036.9,694.9 1038.4,694.9 1039.9,694.9 1041.5,694.9 1043,694.9 1044.5,695 1046.1,695 1047.6,695 1049.2,695 1050.7,695.1 1052.3,695.1 1053.8,695.1 1055.4,695.1 1057,695.2 1058.6,695.2 1060,695.2 1061.5,695.3 1062.9,695.3 1064.4,695.3 1065.9,695.4 1067.3,695.4 1068.8,695.4 1070.3,695.5 1071.8,695.5 1073.3,695.6 1074.8,695.6 1076.3,695.6 1077.8,695.7 1079.3,695.7 1080.8,695.8 1082.4,695.8 1083.9,695.8 1085.4,695.9 1086.9,695.9 1088.5,696 1090,696 1091.6,696.1 1093.1,696.1 1094.6,696.2 1096.2,696.2 1097.7,696.2 1099.3,696.3 1100.8,696.3 1102.4,696.4 1103.9,696.4 1105.5,696.5 1107,696.5 1108.5,696.5 1110.1,696.6 1111.6,696.6 1113.2,696.7 1114.7,696.7 1116.3,696.7 1117.8,696.8 1119.3,696.8 1120.9,696.8 1122.4,696.9 1123.9,696.9 1125.4,696.9 1127,696.9 1128.5,697 1130,697 1131.5,697 1133,697 1134.5,697.1 1136,697.1 1137.5,697.1 1139,697.1 1140.5,697.1 1141.9,697.2 1143.4,697.2 1144.9,697.2 1146.3,697.2 1147.8,697.2 1149.2,697.2 1150.7,697.2 1152.1,697.2 1153.6,697.2 1155,697.2 1156.4,697.2 1157.9,697.3 1159.3,697.3 1160.8,697.3 1162.2,697.3 1163.7,697.3 1165.2,697.3 1166.6,697.3 1168.1,697.3 1169.6,697.3 1171.1,697.3 1172.6,697.3 1174.1,697.3 1175.6,697.3 1177.1,697.3 1178.7,697.3 1180.2,697.3 1181.8,697.4 1183.4,697.4 1185,697.4 1186.6,697.4 1188.2,697.4 1189.8,697.4 1191.5,697.4 1193.1,697.4 1194.8,697.4 1196.5,697.5 1198.3,697.5 1200,697.5 1201.3,697.5 1202.6,697.5 1203.9,697.5 1205.2,697.6 1206.5,697.6 1207.9,697.6 1209.2,697.6 1210.6,697.6 1211.9,697.6 1213.3,697.7 1214.7,697.7 1216.1,697.7 1217.5,697.7 1218.9,697.7 1220.3,697.8 1221.7,697.8 1223.1,697.8 1224.6,697.8 1226,697.8 1227.5,697.9 1228.9,697.9 1230.4,697.9 1231.9,697.9 1233.3,698 1234.8,698 1236.3,698 1237.8,698 1239.3,698.1 1240.8,698.1 1242.3,698.1 1243.8,698.1 1245.4,698.2 1246.9,698.2 1248.4,698.2 1250,698.2 1251.5,698.3 1253,698.3 1254.6,698.3 1256.1,698.3 1257.7,698.4 1259.3,698.4 1260.8,698.4 1262.4,698.4 1264,698.5 1265.5,698.5 1267.1,698.5 1268.7,698.5 1270.2,698.6 1271.8,698.6 1273.4,698.6 1275,698.6 1276.6,698.7 1278.2,698.7 1279.7,698.7 1281.3,698.8 1282.9,698.8 1284.5,698.8 1286.1,698.8 1287.7,698.9 1289.3,698.9 1290.9,698.9 1292.5,698.9 1294,699 1295.6,699 1297.2,699 1298.8,699 1300.4,699.1 1302,699.1 1303.6,699.1 1305.1,699.1 1306.7,699.2 1308.3,699.2 1309.9,699.2 1311.4,699.2 1313,699.3 1314.6,699.3 1316.1,699.3 1317.7,699.3 1319.2,699.4 1320.8,699.4 1322.3,699.4 1323.9,699.4 1325.4,699.4 1326.9,699.5 1328.5,699.5 1330,699.5 1331.5,699.5 1333,699.5 1334.5,699.6 1336,699.6 1337.5,699.6 1339,699.6 1340.5,699.6 1342,699.7 1343.5,699.7 1345,699.7 1346.5,699.7 1348,699.7 1349.5,699.7 1351,699.8 1352.5,699.8 1354,699.8 1355.5,699.8 1357,699.8 1358.5,699.9 1360,699.9 1361.5,699.9 1363,699.9 1364.5,699.9 1366,699.9 1367.5,700 1369,700 1370.5,700 1372,700 1373.5,700 1375,700 1376.5,700.1 1378,700.1 1379.5,700.1 1381,700.1 1382.5,700.1 1384.1,700.1 1385.6,700.2 1387.1,700.2 1388.6,700.2 1390.1,700.2 1391.6,700.2 1393.1,700.2 1394.6,700.3 1396.1,700.3 1397.6,700.3 1399.1,700.3 1400.6,700.3 1402.2,700.3 1403.7,700.4 1405.2,700.4 1406.7,700.4 1408.2,700.4 1409.7,700.4 1411.2,700.4 1412.7,700.5 1414.2,700.5 1415.7,700.5 1417.2,700.5 1418.8,700.5 1420.3,700.5 1421.8,700.5 1423.3,700.6 1424.8,700.6 1426.3,700.6 1427.8,700.6 1429.3,700.6 1430.8,700.6 1432.3,700.7 1433.8,700.7 1435.4,700.7 1436.9,700.7 1438.4,700.7 1439.9,700.7 1441.4,700.8 1442.9,700.8 1444.4,700.8 1445.9,700.8 1447.4,700.8 1448.9,700.8 1450.4,700.9 1451.9,700.9 1453.5,700.9 1455,700.9 1456.5,700.9 1458,700.9 1459.5,700.9 1461,701 1462.5,701 1464,701" fill="none" stroke="#3050a8" stroke-width="6" stroke-linejoin="round"/>
<path d="M286,701.5L287.5,701.5 289,701.5 290.6,701.5 292.1,701.5 293.7,701.5 295.3,701.5 296.9,701.5 298.5,701.5 300.1,701.5 301.7,701.5 303.4,701.5 305,701.5 306.7,701.5 308.3,701.5 310,701.5 311.7,701.5 313.4,701.5 315.1,701.5 316.8,701.5 318.5,701.5 320.3,701.5 322,701.5 323.7,701.5 325.5,701.5 327.2,701.5 328.9,701.5 330.7,701.5 332.4,701.5 334.2,701.5 336,701.5 337.7,701.5 339.5,701.5 341.2,701.5 343,701.5 344.7,701.5 346.5,701.5 348.2,701.5 350,701.5 351.7,701.5 353.5,701.5 355.2,701.5 356.9,701.5 358.7,701.5 360.4,701.5 362.1,701.5 363.8,701.5 365.5,701.5 367.2,701.5 368.9,701.5 370.6,701.5 372.3,701.5 373.9,701.5 375.6,701.5 377.2,701.5 378.8,701.5 380.5,701.5 382.1,701.5 383.7,701.5 385.2,701.5 386.8,701.5 388.4,701.5 389.9,701.5 391.4,701.5 392.9,701.5 394.4,701.5 395.9,701.5 397.3,701.5 398.8,701.5 400.2,701.5 401.6,701.5 403,701.5 404.4,701.5 405.7,701.5 407,701.5 408.3,701.5 409.6,701.5 410.9,701.5 412.1,701.5 413.3,701.5 414.5,701.5 415.7,701.5 416.8,701.5 418,701.5 419.1,701.5 420.1,701.5 421.2,701.5 422.2,701.5 423.2,701.5 424.1,701.5 425.1,701.5 426,701.5 426.8,701.5 427.7,701.5 428.5,701.5 429.3,701.5 430,701.5 432.1,701.5 434,701.5 435.7,701.5 437.3,701.5 438.7,701.5 440,701.5 441.3,701.5 442.5,701.5 443.7,701.5 445,701.5 446.7,701.5 448.3,701.6 449.9,701.7 451.4,701.8 452.8,701.7 454,701.5 456,700.8 457.5,699.5 458.2,698.2 458.7,696.6 459.1,694.8 459.5,693 459.8,691.5 460.1,689.9 460.3,688.3 460.6,686.6 460.8,684.8 461,683 461.2,681.6 461.3,680.2 461.4,678.7 461.5,677.2 461.7,675.7 461.8,674.1 461.9,672.4 462,670.7 462.2,668.9 462.3,667 462.4,665.8 462.5,664.6 462.6,663.3 462.7,662 462.8,660.7 462.9,659.4 463,658 463.2,656.6 463.3,655.2 463.4,653.7 463.5,652.2 463.6,650.7 463.8,649.2 463.9,647.6 464,646.1 464.2,644.5 464.3,642.9 464.4,641.3 464.5,639.7 464.7,638 464.8,636.4 464.9,634.7 465,633 465.2,631.4 465.3,629.7 465.4,628 465.5,626.7 465.6,625.3 465.7,624 465.8,622.6 465.9,621.2 466,619.8 466.1,618.4 466.2,616.9 466.3,615.5 466.3,614 466.4,612.5 466.5,611.1 466.6,609.6 466.7,608.1 466.8,606.6 466.9,605 467,603.5 467.1,602 467.2,600.4 467.3,598.9 467.4,597.3 467.5,595.8 467.6,594.2 467.7,592.6 467.8,591.1 467.9,589.5 468,587.9 468.1,586.3 468.2,584.8 468.2,583.2 468.3,581.6 468.4,580 468.5,578.5 468.6,576.9 468.7,575.3 468.8,573.8 468.8,572.2 468.9,570.7 469,569.1 469.1,567.6 469.2,566 469.2,564.5 469.3,563 469.4,561.5 469.4,560 469.5,558.5 469.6,557 469.6,555.4 469.7,553.9 469.8,552.4 469.8,550.9 469.9,549.4 469.9,547.9 470,546.4 470,544.9 470.1,543.4 470.1,541.8 470.2,540.3 470.2,538.8 470.3,537.3 470.3,535.8 470.4,534.3 470.4,532.8 470.5,531.3 470.5,529.7 470.6,528.2 470.6,526.7 470.6,525.2 470.7,523.7 470.7,522.2 470.8,520.7 470.8,519.2 470.9,517.7 470.9,516.1 471,514.6 471,513.1 471,511.6 471.1,510.1 471.1,508.6 471.2,507.1 471.2,505.6 471.3,504 471.3,502.5 471.4,501 471.4,499.5 471.5,498 471.6,496.5 471.6,495 471.7,493.5 471.7,492 471.8,490.5 471.8,488.9 471.9,487.4 471.9,485.9 472,484.4 472.1,482.9 472.1,481.4 472.2,479.9 472.2,478.4 472.3,476.9 472.3,475.4 472.4,473.9 472.5,472.4 472.5,470.9 472.6,469.4 472.6,467.9 472.7,466.4 472.7,464.9 472.8,463.4 472.9,461.9 472.9,460.3 473,458.8 473,457.3 473.1,455.8 473.2,454.3 473.2,452.8 473.3,451.3 473.3,449.8 473.4,448.2 473.5,446.7 473.5,445.2 473.6,443.7 473.6,442.2 473.7,440.6 473.8,439.1 473.8,437.6 473.9,436.1 473.9,434.5 474,433 474.1,431.5 474.1,430 474.2,428.6 474.2,427.1 474.3,425.6 474.4,424.1 474.4,422.7 474.5,421.2 474.5,419.7 474.6,418.2 474.6,416.7 474.7,415.3 474.8,413.8 474.8,412.3 474.9,410.8 474.9,409.3 475,407.8 475.1,406.3 475.1,404.9 475.2,403.4 475.3,401.9 475.3,400.4 475.4,398.9 475.4,397.4 475.5,395.9 475.6,394.4 475.6,392.9 475.7,391.4 475.7,389.9 475.8,388.4 475.9,386.9 475.9,385.4 476,383.9 476,382.4 476.1,380.8 476.2,379.3 476.2,377.8 476.3,376.3 476.4,374.8 476.4,373.2 476.5,371.7 476.5,370.2 476.6,368.6 476.7,367.1 476.7,365.5 476.8,364 476.9,362.5 476.9,361.1 477,359.6 477,358.1 477.1,356.7 477.2,355.2 477.2,353.7 477.3,352.2 477.3,350.7 477.4,349.3 477.5,347.8 477.5,346.3 477.6,344.8 477.6,343.3 477.7,341.8 477.8,340.2 477.8,338.7 477.9,337.2 477.9,335.7 478,334.2 478.1,332.7 478.1,331.2 478.2,329.7 478.2,328.1 478.3,326.6 478.4,325.1 478.4,323.6 478.5,322.1 478.5,320.5 478.6,319 478.7,317.5 478.7,316 478.8,314.5 478.8,313 478.9,311.4 479,309.9 479,308.4 479.1,306.9 479.2,305.4 479.2,303.9 479.3,302.4 479.4,300.9 479.4,299.4 479.5,297.9 479.5,296.4 479.6,294.9 479.7,293.4 479.7,291.9 479.8,290.4 479.9,288.9 479.9,287.5 480,286 480.1,284.5 480.1,282.9 480.2,281.4 480.3,279.8 480.3,278.3 480.4,276.7 480.5,275.1 480.5,273.5 480.6,272 480.7,270.4 480.8,268.8 480.8,267.2 480.9,265.6 481,264 481,262.5 481.1,260.9 481.2,259.3 481.2,257.7 481.3,256.1 481.4,254.5 481.5,253 481.5,251.4 481.6,249.8 481.7,248.3 481.7,246.7 481.8,245.2 481.9,243.6 482,242.1 482,240.6 482.1,239.1 482.2,237.6 482.3,236.1 482.3,234.6 482.4,233.1 482.5,231.6 482.6,230.2 482.6,228.8 482.7,227.3 482.8,225.9 482.9,224.5 482.9,223.2 483,221.8 483.1,220.5 483.2,219.1 483.3,217.8 483.3,216.5 483.4,215.3 483.5,214 483.6,212.3 483.7,210.5 483.8,208.8 484,207.1 484.1,205.4 484.2,203.8 484.3,202.2 484.4,200.5 484.5,199 484.6,197.4 484.7,195.8 484.9,194.3 485,192.8 485.1,191.3 485.2,189.9 485.4,188.5 485.5,187.1 485.6,185.7 485.8,184.3 485.9,183 486,181.7 486.2,180.5 486.3,179.2 486.5,178 486.8,176 487,173.9 487.3,171.7 487.6,169.6 487.9,167.6 488.2,165.8 488.5,164.3 488.8,163.1 489.2,162.3 489.5,162 489.9,162.3 490.3,163.1 490.7,164.4 491.1,166 491.5,167.8 491.9,169.8 492.3,171.9 492.7,174 493,176 493.2,177.2 493.4,178.5 493.6,179.8 493.7,181.1 493.9,182.4 494.1,183.8 494.2,185.2 494.4,186.6 494.5,188 494.6,189.5 494.8,191.1 494.9,192.6 495,194.2 495.1,195.8 495.3,197.4 495.4,199.1 495.5,200.8 495.6,202.6 495.7,204.3 495.9,206.2 496,208 496.1,209.2 496.2,210.4 496.2,211.6 496.3,212.9 496.4,214.2 496.5,215.5 496.5,216.8 496.6,218.1 496.7,219.5 496.8,220.9 496.8,222.2 496.9,223.7 497,225.1 497,226.5 497.1,228 497.2,229.5 497.2,231 497.3,232.5 497.4,234 497.4,235.5 497.5,237 497.6,238.6 497.6,240.1 497.7,241.7 497.8,243.3 497.8,244.9 497.9,246.4 498,248 498,249.6 498.1,251.2 498.1,252.8 498.2,254.4 498.3,256 498.3,257.7 498.4,259.3 498.5,260.9 498.5,262.5 498.6,264.1 498.6,265.7 498.7,267.3 498.8,268.9 498.8,270.5 498.9,272.1 499,273.7 499,275.2 499.1,276.8 499.2,278.4 499.2,279.9 499.3,281.4 499.4,283 499.4,284.5 499.5,286 499.6,287.5 499.6,289 499.7,290.5 499.8,292 499.9,293.5 499.9,295 500,296.6 500.1,298.1 500.1,299.6 500.2,301.1 500.3,302.6 500.4,304.1 500.4,305.7 500.5,307.2 500.6,308.7 500.6,310.2 500.7,311.7 500.8,313.3 500.9,314.8 500.9,316.3 501,317.8 501.1,319.3 501.2,320.9 501.2,322.4 501.3,323.9 501.4,325.4 501.5,326.9 501.5,328.4 501.6,329.9 501.7,331.5 501.7,333 501.8,334.5 501.9,336 502,337.5 502,339 502.1,340.5 502.2,342 502.2,343.5 502.3,345 502.4,346.4 502.5,347.9 502.5,349.4 502.6,350.9 502.7,352.4 502.7,353.8 502.8,355.3 502.9,356.8 502.9,358.2 503,359.7 503.1,361.1 503.1,362.6 503.2,364 503.3,365.6 503.3,367.1 503.4,368.7 503.5,370.2 503.5,371.7 503.6,373.3 503.7,374.8 503.7,376.3 503.8,377.8 503.8,379.4 503.9,380.9 503.9,382.4 504,383.9 504.1,385.4 504.1,386.9 504.2,388.4 504.2,389.9 504.3,391.3 504.3,392.8 504.4,394.3 504.4,395.8 504.5,397.3 504.6,398.8 504.6,400.2 504.7,401.7 504.7,403.2 504.8,404.7 504.9,406.2 504.9,407.6 505,409.1 505,410.6 505.1,412.1 505.2,413.6 505.2,415 505.3,416.5 505.4,418 505.4,419.5 505.5,421 505.6,422.5 505.7,424 505.7,425.5 505.8,427 505.9,428.5 506,430 506.1,431.5 506.2,433 506.3,434.5 506.4,436 506.5,437.6 506.6,439.1 506.7,440.6 506.8,442.1 506.9,443.7 507,445.2 507.1,446.8 507.2,448.3 507.3,449.8 507.4,451.4 507.5,452.9 507.6,454.5 507.8,456 507.9,457.6 508,459.1 508.1,460.7 508.2,462.2 508.3,463.7 508.5,465.3 508.6,466.8 508.7,468.4 508.8,469.9 508.9,471.4 509,472.9 509.2,474.5 509.3,476 509.4,477.5 509.5,479 509.6,480.5 509.8,482 509.9,483.5 510,485 510.1,486.4 510.2,487.9 510.3,489.4 510.5,490.8 510.6,492.3 510.7,493.7 510.8,495.2 510.9,496.6 511,498 511.1,499.6 511.2,501.3 511.4,502.9 511.5,504.5 511.6,506.1 511.7,507.7 511.8,509.3 511.9,510.9 512.1,512.5 512.2,514 512.3,515.6 512.4,517.2 512.5,518.7 512.6,520.3 512.7,521.8 512.8,523.4 512.9,524.9 513.1,526.4 513.2,528 513.3,529.5 513.4,531 513.5,532.5 513.6,534 513.8,535.5 513.9,537 514,538.4 514.1,539.9 514.2,541.4 514.4,542.8 514.5,544.3 514.6,545.7 514.7,547.1 514.9,548.6 515,550 515.2,551.6 515.3,553.2 515.5,554.8 515.6,556.3 515.8,557.9 515.9,559.4 516.1,561 516.2,562.5 516.4,564 516.5,565.5 516.7,567 516.8,568.5 517,570 517.1,571.5 517.3,573 517.5,574.4 517.7,575.9 517.8,577.4 518,578.8 518.2,580.3 518.4,581.7 518.6,583.2 518.8,584.6 519,586.1 519.2,587.5 519.4,589 519.6,590.6 519.9,592.1 520.1,593.7 520.3,595.3 520.6,596.9 520.8,598.5 521.1,600 521.3,601.6 521.6,603.2 521.8,604.8 522.1,606.3 522.3,607.9 522.6,609.4 522.9,610.9 523.2,612.5 523.5,614 523.8,615.5 524.2,616.9 524.5,618.4 524.9,619.8 525.2,621.2 525.6,622.6 526,624 526.5,625.6 527,627.1 527.5,628.6 528,630.1 528.5,631.6 529,633 529.5,634.5 530.1,635.9 530.7,637.3 531.3,638.7 531.9,640.1 532.5,641.4 533.2,642.8 533.8,644.1 534.5,645.4 535.3,646.7 536,648 536.8,649.3 537.6,650.6 538.4,651.9 539.2,653.2 540,654.4 540.9,655.7 541.8,656.9 542.7,658.1 543.6,659.3 544.6,660.5 545.6,661.6 546.6,662.8 547.6,663.9 548.7,664.9 549.8,666 551,667 552.1,667.9 553.2,668.8 554.4,669.7 555.6,670.5 556.9,671.3 558.2,672.1 559.5,672.9 560.8,673.6 562.2,674.4 563.5,675.1 564.9,675.8 566.3,676.5 567.7,677.2 569.1,677.8 570.5,678.5 571.9,679.1 573.3,679.8 574.6,680.4 576,681 577.4,681.6 578.8,682.2 580.1,682.8 581.5,683.4 582.9,683.9 584.2,684.4 585.6,684.9 586.9,685.4 588.3,685.9 589.7,686.4 591.2,686.9 592.6,687.3 594.1,687.8 595.6,688.2 597.1,688.7 598.7,689.1 600.3,689.6 602,690 603.3,690.3 604.6,690.6 605.9,691 607.3,691.3 608.6,691.6 610,691.9 611.5,692.2 612.9,692.5 614.4,692.8 615.9,693.1 617.4,693.4 618.9,693.7 620.4,694 622,694.3 623.5,694.5 625.1,694.8 626.7,695.1 628.3,695.3 629.9,695.6 631.4,695.8 633,696.1 634.6,696.3 636.2,696.6 637.8,696.8 639.4,697 641,697.2 642.6,697.4 644.2,697.6 645.8,697.8 647.4,698 648.9,698.2 650.5,698.3 652,698.5 653.5,698.6 655,698.8 656.4,698.9 657.9,699 659.3,699.1 660.7,699.2 662.2,699.3 663.6,699.4 665,699.5 666.4,699.6 667.9,699.6 669.3,699.7 670.7,699.7 672.1,699.8 673.6,699.8 675,699.9 676.4,699.9 677.9,699.9 679.3,699.9 680.8,700 682.3,700 683.8,700 685.3,700 686.8,700.1 688.3,700.1 689.9,700.1 691.4,700.1 693,700.1 694.6,700.2 696.2,700.2 697.9,700.2 699.6,700.2 701.3,700.3 703,700.3 704.3,700.3 705.6,700.4 706.9,700.4 708.2,700.4 709.5,700.4 710.9,700.4 712.3,700.5 713.6,700.5 715,700.5 716.4,700.5 717.8,700.5 719.3,700.6 720.7,700.6 722.1,700.6 723.6,700.6 725,700.6 726.5,700.6 728,700.7 729.5,700.7 731,700.7 732.5,700.7 734,700.7 735.5,700.7 737,700.7 738.6,700.7 740.1,700.8 741.7,700.8 743.2,700.8 744.8,700.8 746.3,700.8 747.9,700.8 749.5,700.8 751,700.8 752.6,700.8 754.2,700.8 755.8,700.8 757.4,700.8 759,700.8 760.6,700.9 762.2,700.9 763.8,700.9 765.3,700.9 766.9,700.9 768.5,700.9 770.1,700.9 771.7,700.9 773.3,700.9 774.9,700.9 776.5,700.9 778.1,700.9 779.7,700.9 781.3,700.9 782.9,700.9 784.4,700.9 786,700.9 787.6,700.9 789.2,701 790.7,701 792.3,701 793.8,701 795.4,701 796.9,701 798.5,701 800,701 801.5,701 803,701 804.5,701 806,701 807.5,701 809,701 810.5,701 812,701.1 813.6,701.1 815.1,701.1 816.6,701.1 818.1,701.1 819.6,701.1 821.1,701.1 822.6,701.1 824.1,701.1 825.6,701.1 827.2,701.1 828.7,701.1 830.2,701.1 831.7,701.1 833.2,701.1 834.7,701.1 836.3,701.1 837.8,701.1 839.3,701.2 840.8,701.2 842.3,701.2 843.8,701.2 845.4,701.2 846.9,701.2 848.4,701.2 849.9,701.2 851.4,701.2 852.9,701.2 854.5,701.2 856,701.2 857.5,701.2 859,701.2 860.5,701.2 862.1,701.2 863.6,701.2 865.1,701.2 866.6,701.2 868.1,701.2 869.6,701.2 871.2,701.2 872.7,701.2 874.2,701.2 875.7,701.2 877.2,701.2 878.8,701.3 880.3,701.3 881.8,701.3 883.3,701.3 884.8,701.3 886.4,701.3 887.9,701.3 889.4,701.3 890.9,701.3 892.4,701.3 893.9,701.3 895.5,701.3 897,701.3 898.5,701.3 900,701.3 901.5,701.3 903,701.3 904.5,701.3 905.9,701.3 907.4,701.3 908.8,701.3 910.2,701.3 911.6,701.3 913,701.3 914.4,701.3 915.8,701.3 917.2,701.3 918.6,701.3 919.9,701.4 921.3,701.4 922.6,701.4 924,701.4 925.3,701.4 926.6,701.4 928,701.4 929.3,701.4 930.6,701.4 932,701.4 933.3,701.4 934.6,701.4 936,701.4 937.3,701.4 938.6,701.4 940,701.4 941.3,701.4 942.7,701.4 944.1,701.4 945.4,701.4 946.8,701.4 948.2,701.4 949.6,701.4 951,701.4 952.4,701.4 953.9,701.4 955.3,701.4 956.8,701.4 958.2,701.4 959.7,701.4 961.2,701.4 962.8,701.4 964.3,701.5 965.9,701.5 967.4,701.5 969,701.5 970.7,701.5 972.3,701.5 974,701.5 975.7,701.5 977.4,701.5 979.1,701.5 980.9,701.5 982.6,701.5 984.5,701.5 986.3,701.5 988.2,701.5 990.1,701.5 992,701.5 993.9,701.5 995.9,701.5 997.9,701.5 1000,701.5 1001,701.5 1001.9,701.5 1002.9,701.5 1003.9,701.5 1004.8,701.5 1005.8,701.5 1006.8,701.5 1007.8,701.5 1008.9,701.5 1009.9,701.5 1010.9,701.5 1011.9,701.5 1013,701.5 1014,701.5 1015.1,701.5 1016.1,701.5 1017.2,701.5 1018.3,701.5 1019.3,701.5 1020.4,701.5 1021.5,701.5 1022.6,701.5 1023.7,701.5 1024.8,701.5 1025.9,701.5 1027.1,701.5 1028.2,701.5 1029.3,701.5 1030.5,701.5 1031.6,701.5 1032.8,701.5 1033.9,701.5 1035.1,701.5 1036.3,701.5 1037.4,701.5 1038.6,701.5 1039.8,701.5 1041,701.5 1042.2,701.5 1043.4,701.5 1044.6,701.5 1045.8,701.5 1047.1,701.5 1048.3,701.5 1049.5,701.5 1050.8,701.5 1052,701.5 1053.3,701.5 1054.5,701.5 1055.8,701.5 1057,701.5 1058.3,701.5 1059.6,701.5 1060.9,701.5 1062.2,701.5 1063.5,701.5 1064.8,701.5 1066.1,701.5 1067.4,701.5 1068.7,701.5 1070,701.5 1071.3,701.5 1072.7,701.5 1074,701.5 1075.3,701.5 1076.7,701.5 1078,701.5 1079.4,701.5 1080.7,701.5 1082.1,701.5 1083.5,701.5 1084.8,701.5 1086.2,701.5 1087.6,701.5 1089,701.5 1090.4,701.5 1091.8,701.5 1093.2,701.5 1094.6,701.5 1096,701.5 1097.4,701.5 1098.8,701.5 1100.2,701.5 1101.7,701.5 1103.1,701.5 1104.5,701.5 1106,701.5 1107.4,701.5 1108.9,701.5 1110.3,701.5 1111.8,701.5 1113.2,701.5 1114.7,701.5 1116.1,701.5 1117.6,701.5 1119.1,701.5 1120.6,701.5 1122.1,701.5 1123.5,701.5 1125,701.5 1126.5,701.5 1128,701.5 1129.5,701.5 1131,701.5 1132.5,701.5 1134,701.5 1135.5,701.5 1137.1,701.5 1138.6,701.5 1140.1,701.5 1141.6,701.5 1143.2,701.5 1144.7,701.5 1146.2,701.5 1147.8,701.5 1149.3,701.5 1150.9,701.5 1152.4,701.5 1154,701.5 1155.5,701.5 1157.1,701.5 1158.6,701.5 1160.2,701.5 1161.8,701.5 1163.3,701.5 1164.9,701.5 1166.5,701.5 1168.1,701.5 1169.7,701.5 1171.2,701.5 1172.8,701.5 1174.4,701.5 1176,701.5 1177.6,701.5 1179.2,701.5 1180.8,701.5 1182.4,701.5 1184,701.5 1185.6,701.5 1187.2,701.5 1188.8,701.5 1190.4,701.5 1192.1,701.5 1193.7,701.5 1195.3,701.5 1196.9,701.5 1198.5,701.5 1200.2,701.5 1201.8,701.5 1203.4,701.5 1205.1,701.5 1206.7,701.5 1208.3,701.5 1210,701.5 1211.6,701.5 1213.2,701.5 1214.9,701.5 1216.5,701.5 1218.2,701.5 1219.8,701.5 1221.5,701.5 1223.1,701.5 1224.8,701.5 1226.4,701.5 1228.1,701.5 1229.7,701.5 1231.4,701.5 1233.1,701.5 1234.7,701.5 1236.4,701.5 1238,701.5 1239.7,701.5 1241.4,701.5 1243,701.5 1244.7,701.5 1246.4,701.5 1248,701.5 1249.7,701.5 1251.4,701.5 1253.1,701.5 1254.7,701.5 1256.4,701.5 1258.1,701.5 1259.8,701.5 1261.4,701.5 1263.1,701.5 1264.8,701.5 1266.5,701.5 1268.1,701.5 1269.8,701.5 1271.5,701.5 1273.2,701.5 1274.9,701.5 1276.6,701.5 1278.2,701.5 1279.9,701.5 1281.6,701.5 1283.3,701.5 1285,701.5 1286.6,701.5 1288.3,701.5 1290,701.5 1291.7,701.5 1293.4,701.5 1295.1,701.5 1296.8,701.5 1298.4,701.5 1300.1,701.5 1301.8,701.5 1303.5,701.5 1305.2,701.5 1306.9,701.5 1308.5,701.5 1310.2,701.5 1311.9,701.5 1313.6,701.5 1315.3,701.5 1317,701.5 1318.6,701.5 1320.3,701.5 1322,701.5 1323.7,701.5 1325.4,701.5 1327,701.5 1328.7,701.5 1330.4,701.5 1332.1,701.5 1333.8,701.5 1335.4,701.5 1337.1,701.5 1338.8,701.5 1340.5,701.5 1342.1,701.5 1343.8,701.5 1345.5,701.5 1347.1,701.5 1348.8,701.5 1350.5,701.5 1352.1,701.5 1353.8,701.5 1355.5,701.5 1357.1,701.5 1358.8,701.5 1360.5,701.5 1362.1,701.5 1363.8,701.5 1365.4,701.5 1367.1,701.5 1368.7,701.5 1370.4,701.5 1372,701.5 1373.7,701.5 1375.3,701.5 1377,701.5 1378.6,701.5 1380.3,701.5 1381.9,701.5 1383.6,701.5 1385.2,701.5 1386.8,701.5 1388.5,701.5 1390.1,701.5 1391.7,701.5 1393.4,701.5 1395,701.5 1396.6,701.5 1398.2,701.5 1399.8,701.5 1401.5,701.5 1403.1,701.5 1404.7,701.5 1406.3,701.5 1407.9,701.5 1409.5,701.5 1411.1,701.5 1412.7,701.5 1414.3,701.5 1415.9,701.5 1417.5,701.5 1419.1,701.5 1420.7,701.5 1422.3,701.5 1423.9,701.5 1425.4,701.5 1427,701.5 1428.6,701.5 1430.2,701.5 1431.7,701.5 1433.3,701.5 1434.9,701.5 1436.4,701.5 1438,701.5 1439.5,701.5 1441.1,701.5 1442.6,701.5 1444.2,701.5 1445.7,701.5 1447.3,701.5 1448.8,701.5 1450.3,701.5 1451.9,701.5 1453.4,701.5 1454.9,701.5 1456.4,701.5 1458,701.5 1459.5,701.5 1461,701.5 1462.5,701.5 1464,701.5" fill="none" stroke="#0d0d0d" stroke-width="6.6" stroke-dasharray="16.5 3.8" stroke-linejoin="round"/>
<rect x="286.4" y="80.6" width="1178" height="877.4" fill="none" stroke="#231f20" stroke-width="3"/>
<g stroke="#231f20" stroke-width="2.2"><line x1="454.7" y1="958" x2="454.7" y2="946.5"/><line x1="454.7" y1="80.6" x2="454.7" y2="92.1"/><line x1="623" y1="958" x2="623" y2="946.5"/><line x1="623" y1="80.6" x2="623" y2="92.1"/><line x1="791.3" y1="958" x2="791.3" y2="946.5"/><line x1="791.3" y1="80.6" x2="791.3" y2="92.1"/><line x1="959.6" y1="958" x2="959.6" y2="946.5"/><line x1="959.6" y1="80.6" x2="959.6" y2="92.1"/><line x1="1127.8" y1="958" x2="1127.8" y2="946.5"/><line x1="1127.8" y1="80.6" x2="1127.8" y2="92.1"/><line x1="1296.1" y1="958" x2="1296.1" y2="946.5"/><line x1="1296.1" y1="80.6" x2="1296.1" y2="92.1"/><line x1="286.4" y1="908.1" x2="297.9" y2="908.1"/><line x1="1464.4" y1="908.1" x2="1452.9" y2="908.1"/><line x1="286.4" y1="804.6" x2="297.9" y2="804.6"/><line x1="1464.4" y1="804.6" x2="1452.9" y2="804.6"/><line x1="286.4" y1="701.2" x2="297.9" y2="701.2"/><line x1="1464.4" y1="701.2" x2="1452.9" y2="701.2"/><line x1="286.4" y1="597.8" x2="297.9" y2="597.8"/><line x1="1464.4" y1="597.8" x2="1452.9" y2="597.8"/><line x1="286.4" y1="494.3" x2="297.9" y2="494.3"/><line x1="1464.4" y1="494.3" x2="1452.9" y2="494.3"/><line x1="286.4" y1="390.9" x2="297.9" y2="390.9"/><line x1="1464.4" y1="390.9" x2="1452.9" y2="390.9"/><line x1="286.4" y1="287.4" x2="297.9" y2="287.4"/><line x1="1464.4" y1="287.4" x2="1452.9" y2="287.4"/><line x1="286.4" y1="184" x2="297.9" y2="184"/><line x1="1464.4" y1="184" x2="1452.9" y2="184"/><line x1="286.4" y1="80.6" x2="297.9" y2="80.6"/><line x1="1464.4" y1="80.6" x2="1452.9" y2="80.6"/></g>
<rect x="843.3" y="97.6" width="607.2" height="180.7" fill="#fff" stroke="#231f20" stroke-width="2.6"/>
<line x1="863" y1="133" x2="943" y2="133" stroke="#d7242b" stroke-width="6" stroke-dasharray="6 4.4"/>
<line x1="863" y1="187.5" x2="943" y2="187.5" stroke="#3050a8" stroke-width="6.5"/>
<line x1="863" y1="244.2" x2="943" y2="244.2" stroke="#0d0d0d" stroke-width="6.5" stroke-dasharray="16.5 4"/>
<text transform="translate(956,150.8) scale(1,1.04)" font-size="52" text-anchor="start">Passive</text>
<text transform="translate(956,205.7) scale(1,1.04)" font-size="52" text-anchor="start">Adaptive backstepping</text>
<text transform="translate(956,260.9) scale(1,1.04)" font-size="52" text-anchor="start">Skyhook</text>
<text transform="translate(265.5,99.3) scale(1,1.04)" font-size="52" text-anchor="end">6</text>
<text transform="translate(265.5,202.3) scale(1,1.04)" font-size="52" text-anchor="end">5</text>
<text transform="translate(265.5,304.2) scale(1,1.04)" font-size="52" text-anchor="end">4</text>
<text transform="translate(265.5,406) scale(1,1.04)" font-size="52" text-anchor="end">3</text>
<text transform="translate(265.5,508) scale(1,1.04)" font-size="52" text-anchor="end">2</text>
<text transform="translate(265.5,612) scale(1,1.04)" font-size="52" text-anchor="end">1</text>
<text transform="translate(265.5,713.2) scale(1,1.04)" font-size="52" text-anchor="end">0</text>
<text transform="translate(265.5,816.7) scale(1,1.04)" font-size="52" text-anchor="end">−1</text>
<text transform="translate(265.5,920.7) scale(1,1.04)" font-size="52" text-anchor="end">−2</text>
<text transform="translate(286.4,1014.5) scale(1,1.04)" font-size="52" text-anchor="middle">0</text>
<text transform="translate(454.7,1014.5) scale(1,1.04)" font-size="52" text-anchor="middle">1</text>
<text transform="translate(623,1014.5) scale(1,1.04)" font-size="52" text-anchor="middle">2</text>
<text transform="translate(791.3,1014.5) scale(1,1.04)" font-size="52" text-anchor="middle">3</text>
<text transform="translate(959.6,1014.5) scale(1,1.04)" font-size="52" text-anchor="middle">4</text>
<text transform="translate(1127.8,1014.5) scale(1,1.04)" font-size="52" text-anchor="middle">5</text>
<text transform="translate(1296.1,1014.5) scale(1,1.04)" font-size="52" text-anchor="middle">6</text>
<text transform="translate(1464.4,1014.5) scale(1,1.04)" font-size="52" text-anchor="middle">7</text>
<text transform="translate(874,1071.3) scale(1,1.04)" font-size="51.5" text-anchor="middle">Time (s)</text>
<text transform="translate(874.5,1136.5) scale(1,1.04)" font-size="51.5" text-anchor="middle">(a)</text>
<text transform="translate(178.2,517) rotate(-90) scale(1,1.04)" font-size="51.5" text-anchor="middle">Pitch angle (rad)</text>
<text transform="translate(284.5,60) scale(1,1.04)" font-size="52" text-anchor="start">×10</text>
<text transform="translate(365,43.3) scale(1,1.04)" font-size="30" text-anchor="start">−3</text>
<path d="M286,1559L287.5,1559 289,1559 290.6,1559 292.1,1559 293.7,1559 295.3,1559 296.9,1559 298.5,1559 300.1,1559 301.7,1559 303.4,1559 305,1559 306.7,1559 308.3,1559 310,1559 311.7,1559 313.3,1559 315,1559 316.7,1559 318.4,1559 320.1,1559 321.9,1559 323.6,1559 325.3,1559 327,1559 328.7,1559 330.5,1559 332.2,1559 333.9,1559 335.6,1559 337.4,1559 339.1,1559 340.8,1559 342.5,1559 344.3,1559 346,1559 347.7,1559 349.4,1559 351.1,1559 352.8,1559 354.5,1559 356.2,1559 357.9,1559 359.6,1559 361.2,1559 362.9,1559 364.6,1559 366.2,1559 367.9,1559 369.5,1559 371.1,1559 372.7,1559 374.3,1559 375.9,1559 377.5,1559 379,1559 380.6,1559 382.1,1559 383.6,1559 385.1,1559 386.6,1559 388.1,1559 389.5,1559 391,1559 392.4,1559 393.8,1559 395.2,1559 396.6,1559 397.9,1559 399.2,1559 400.5,1559 401.8,1559 403.1,1559 404.3,1559 405.5,1559 406.7,1559 407.9,1559 409.1,1559 410.2,1559 411.3,1559 412.4,1559 413.4,1559 414.4,1559 415.4,1559 416.4,1559 417.4,1559 418.3,1559 419.1,1559 420,1559 422.1,1559 424.1,1559 425.9,1559 427.6,1559 429.2,1559 430.7,1559 432.1,1559 433.5,1559 434.8,1559 436.1,1559 437.4,1559 438.7,1559 440,1559 441.7,1559.1 443.4,1559.3 445.1,1559.6 446.7,1559.9 448.2,1560.1 449.7,1560 450.9,1559.7 452,1559 452.6,1558.3 453.1,1557.5 453.5,1556.6 453.8,1555.5 454,1554.4 454.1,1553.1 454.2,1551.7 454.3,1550.2 454.3,1548.7 454.3,1547 454.2,1545.3 454.2,1543.6 454.1,1541.7 454,1539.9 454,1537.9 453.9,1536 453.9,1534 453.9,1532 454,1530 454,1529 454.1,1527.9 454.1,1526.8 454.2,1525.7 454.2,1524.5 454.3,1523.3 454.3,1522.1 454.4,1520.9 454.4,1519.6 454.5,1518.3 454.5,1517 454.6,1515.7 454.6,1514.3 454.6,1513 454.7,1511.6 454.7,1510.2 454.8,1508.7 454.8,1507.3 454.8,1505.8 454.9,1504.3 454.9,1502.8 455,1501.3 455,1499.7 455,1498.2 455.1,1496.6 455.1,1495 455.2,1493.4 455.2,1491.8 455.2,1490.2 455.3,1488.6 455.3,1487 455.4,1485.3 455.4,1483.7 455.4,1482 455.5,1480.4 455.5,1478.7 455.5,1477 455.6,1475.4 455.6,1473.7 455.7,1472 455.7,1470.3 455.7,1468.6 455.8,1467 455.8,1465.3 455.8,1463.6 455.9,1461.9 455.9,1460.2 456,1458.6 456,1456.9 456,1455.2 456.1,1453.6 456.1,1451.9 456.1,1450.3 456.2,1448.6 456.2,1447 456.3,1445.4 456.3,1443.8 456.3,1442.2 456.4,1440.6 456.4,1439 456.5,1437.5 456.5,1435.9 456.6,1434.4 456.6,1432.9 456.6,1431.4 456.7,1429.9 456.7,1428.4 456.8,1427 456.8,1425.5 456.9,1424.1 456.9,1422.7 457,1421.3 457,1420 457.1,1418.3 457.1,1416.6 457.2,1414.9 457.2,1413.2 457.3,1411.5 457.3,1409.8 457.4,1408.1 457.4,1406.3 457.5,1404.6 457.6,1402.9 457.6,1401.2 457.7,1399.5 457.7,1397.8 457.8,1396.1 457.8,1394.4 457.9,1392.7 457.9,1391.1 458,1389.4 458,1387.7 458.1,1386.1 458.1,1384.5 458.2,1382.9 458.3,1381.2 458.3,1379.7 458.4,1378.1 458.4,1376.5 458.5,1375 458.6,1373.4 458.6,1371.9 458.7,1370.5 458.8,1369 458.8,1367.5 458.9,1366.1 459,1364.7 459,1363.3 459.1,1362 459.2,1360.7 459.3,1359.4 459.4,1358.1 459.4,1356.8 459.5,1355.6 459.6,1354.4 459.7,1353.3 459.8,1352.1 459.9,1351.1 460,1350 460.2,1347.9 460.4,1345.7 460.7,1343.5 460.9,1341.4 461.2,1339.3 461.5,1337.4 461.7,1335.6 462,1334.1 462.2,1332.8 462.5,1331.8 462.7,1331.2 462.9,1331 463.1,1331.3 463.3,1332.2 463.5,1333.5 463.6,1335.1 463.8,1337 463.9,1339.1 464.1,1341.2 464.2,1343.3 464.4,1345.3 464.5,1347 464.6,1348.5 464.7,1350 464.8,1351.5 464.9,1353 465,1354.5 465.1,1356 465.2,1357.5 465.3,1359 465.4,1360.5 465.5,1362 465.6,1363.6 465.7,1365.2 465.8,1366.8 465.9,1368.4 465.9,1370 466,1371.6 466.1,1373.2 466.2,1374.8 466.4,1376.4 466.5,1378 466.7,1379.6 466.8,1381.1 467,1382.6 467.2,1384.1 467.5,1385.6 467.7,1387.1 467.9,1388.7 468.1,1390.4 468.3,1392.1 468.5,1394 468.6,1395.2 468.7,1396.5 468.8,1397.8 469,1399.1 469.1,1400.5 469.2,1401.9 469.3,1403.4 469.4,1404.9 469.5,1406.4 469.6,1407.9 469.7,1409.4 469.9,1411 470,1412.5 470.1,1414.1 470.2,1415.7 470.3,1417.3 470.4,1418.9 470.5,1420.5 470.6,1422.1 470.7,1423.7 470.7,1425.3 470.8,1426.9 470.9,1428.5 471,1430 471.1,1431.5 471.2,1433 471.2,1434.5 471.3,1436 471.4,1437.4 471.4,1438.9 471.5,1440.4 471.6,1441.9 471.6,1443.4 471.7,1444.9 471.7,1446.4 471.8,1447.9 471.8,1449.4 471.9,1450.9 471.9,1452.4 472,1453.9 472,1455.5 472.1,1457 472.1,1458.6 472.2,1460.2 472.2,1461.8 472.3,1463.4 472.3,1465 472.4,1466.7 472.4,1468.3 472.5,1470 472.5,1471.4 472.6,1472.7 472.6,1474.1 472.6,1475.5 472.7,1476.9 472.7,1478.4 472.7,1479.8 472.8,1481.3 472.8,1482.8 472.8,1484.2 472.8,1485.7 472.9,1487.2 472.9,1488.7 472.9,1490.3 472.9,1491.8 472.9,1493.3 473,1494.8 473,1496.4 473,1497.9 473,1499.5 473.1,1501 473.1,1502.6 473.1,1504.1 473.2,1505.7 473.2,1507.2 473.2,1508.8 473.3,1510.4 473.3,1511.9 473.3,1513.4 473.4,1515 473.4,1516.5 473.5,1518.1 473.5,1519.6 473.6,1521.1 473.6,1522.6 473.7,1524.1 473.8,1525.6 473.8,1527.1 473.9,1528.5 474,1530 474.1,1531.6 474.2,1533.1 474.3,1534.6 474.4,1536.1 474.5,1537.6 474.7,1539.1 474.8,1540.6 474.9,1542.1 475,1543.5 475.2,1545 475.3,1546.5 475.5,1547.9 475.6,1549.4 475.8,1550.8 475.9,1552.3 476.1,1553.7 476.2,1555.2 476.4,1556.6 476.6,1558.1 476.7,1559.5 476.9,1561 477,1562.5 477.2,1564 477.3,1565.5 477.5,1567 477.6,1568.5 477.8,1570.1 477.9,1571.6 478.1,1573.2 478.2,1574.8 478.3,1576.4 478.4,1578 478.6,1579.6 478.7,1581.3 478.8,1583 478.9,1584.3 479,1585.7 479,1587 479.1,1588.4 479.2,1589.7 479.3,1591.1 479.3,1592.5 479.4,1593.9 479.5,1595.3 479.6,1596.7 479.6,1598.2 479.7,1599.6 479.8,1601 479.8,1602.5 479.9,1604 479.9,1605.4 480,1606.9 480.1,1608.4 480.1,1609.9 480.2,1611.4 480.2,1612.9 480.3,1614.4 480.3,1615.9 480.4,1617.5 480.5,1619 480.5,1620.5 480.6,1622.1 480.6,1623.6 480.7,1625.2 480.7,1626.7 480.8,1628.3 480.8,1629.8 480.9,1631.4 480.9,1632.9 480.9,1634.5 481,1636 481,1637.6 481.1,1639.2 481.1,1640.7 481.2,1642.3 481.2,1643.8 481.3,1645.4 481.3,1647 481.4,1648.5 481.4,1650.1 481.5,1651.6 481.5,1653.2 481.6,1654.7 481.6,1656.3 481.7,1657.8 481.7,1659.4 481.8,1660.9 481.8,1662.4 481.9,1664 481.9,1665.5 482,1667 482,1668.5 482.1,1670 482.2,1671.5 482.2,1673 482.3,1674.5 482.3,1676.1 482.4,1677.6 482.4,1679.2 482.5,1680.7 482.5,1682.3 482.6,1683.9 482.6,1685.4 482.6,1687 482.7,1688.6 482.7,1690.2 482.8,1691.8 482.8,1693.4 482.9,1695 482.9,1696.6 482.9,1698.2 483,1699.8 483,1701.4 483.1,1703 483.1,1704.6 483.2,1706.2 483.2,1707.8 483.2,1709.4 483.3,1711 483.3,1712.6 483.4,1714.2 483.4,1715.7 483.5,1717.3 483.5,1718.9 483.6,1720.4 483.6,1722 483.6,1723.5 483.7,1725.1 483.7,1726.6 483.8,1728.1 483.9,1729.6 483.9,1731.1 484,1732.6 484,1734.1 484.1,1735.6 484.1,1737 484.2,1738.5 484.3,1739.9 484.3,1741.3 484.4,1742.7 484.5,1744.1 484.5,1745.5 484.6,1746.8 484.7,1748.2 484.8,1749.5 484.9,1750.8 484.9,1752.1 485,1753.3 485.1,1754.6 485.2,1755.8 485.3,1757 485.4,1758.8 485.6,1760.6 485.8,1762.4 485.9,1764.1 486.1,1765.9 486.2,1767.6 486.4,1769.2 486.6,1770.9 486.8,1772.5 487,1774.1 487.1,1775.7 487.3,1777.2 487.5,1778.8 487.7,1780.3 487.9,1781.7 488.1,1783.2 488.3,1784.6 488.5,1786 488.7,1787.4 488.9,1788.7 489.1,1790 489.3,1791.3 489.6,1792.6 489.8,1793.8 490,1795 490.4,1797 490.8,1799.2 491.2,1801.3 491.6,1803.5 492,1805.5 492.4,1807.3 492.8,1808.8 493.2,1810 493.6,1810.7 494,1811 494.3,1810.8 494.7,1810.1 495,1809.1 495.3,1807.7 495.6,1806.1 495.9,1804.3 496.2,1802.4 496.5,1800.3 496.8,1798.2 497,1796 497.3,1794 497.5,1792 497.6,1790.8 497.7,1789.5 497.9,1788.2 498,1786.8 498.1,1785.5 498.1,1784 498.2,1782.6 498.3,1781.1 498.4,1779.6 498.4,1778.1 498.5,1776.6 498.5,1775 498.6,1773.4 498.6,1771.8 498.7,1770.2 498.7,1768.6 498.8,1767 498.8,1765.4 498.8,1763.8 498.9,1762.3 498.9,1760.7 498.9,1759.1 499,1757.5 499,1756 499.1,1754.4 499.1,1752.9 499.2,1751.5 499.2,1750 499.3,1748.4 499.3,1746.9 499.3,1745.3 499.4,1743.8 499.4,1742.3 499.5,1740.7 499.5,1739.2 499.5,1737.6 499.6,1736.1 499.6,1734.6 499.6,1733.1 499.7,1731.6 499.7,1730.1 499.7,1728.6 499.8,1727.1 499.8,1725.6 499.8,1724.1 499.9,1722.7 499.9,1721.2 500,1719.7 500.1,1718.3 500.1,1716.9 500.2,1715.4 500.3,1714 500.4,1712.4 500.5,1710.8 500.6,1709.2 500.7,1707.6 500.8,1706 500.9,1704.5 501.1,1702.9 501.2,1701.3 501.3,1699.8 501.5,1698.3 501.6,1696.8 501.7,1695.2 501.9,1693.7 502.1,1692.2 502.2,1690.8 502.4,1689.3 502.6,1687.9 502.8,1686.4 503,1685 503.3,1683.3 503.6,1681.7 503.9,1680.2 504.2,1678.6 504.5,1677.1 504.9,1675.6 505.2,1674.1 505.6,1672.7 506,1671.1 506.3,1669.6 506.6,1668 506.9,1666.4 507.2,1664.7 507.5,1663 507.7,1661.7 507.8,1660.3 508,1658.9 508.1,1657.4 508.2,1655.9 508.3,1654.4 508.4,1652.9 508.5,1651.3 508.6,1649.8 508.7,1648.2 508.8,1646.6 508.8,1645 508.9,1643.4 509,1641.8 509.1,1640.2 509.2,1638.6 509.3,1637.1 509.4,1635.6 509.6,1634 509.7,1632.6 509.9,1631.1 510.1,1629.7 510.3,1628.3 510.5,1627 510.8,1625.4 511.2,1623.7 511.5,1622.2 511.9,1620.6 512.4,1619.1 512.8,1617.6 513.2,1616.2 513.7,1614.7 514.1,1613.3 514.6,1611.9 515.1,1610.5 515.5,1609.1 516,1607.7 516.4,1606.4 516.8,1605 517.3,1603.4 517.7,1601.8 518.2,1600.3 518.6,1598.7 519.1,1597.2 519.5,1595.7 520,1594.2 520.5,1592.7 521,1591.2 521.5,1589.6 522,1588 522.5,1586.6 522.9,1585.2 523.4,1583.8 523.9,1582.4 524.4,1580.9 524.9,1579.5 525.4,1578 525.9,1576.6 526.5,1575.1 527,1573.6 527.6,1572.1 528.2,1570.6 528.8,1569.1 529.4,1567.5 530,1566 530.6,1564.7 531.1,1563.3 531.7,1561.9 532.3,1560.4 532.9,1558.9 533.5,1557.5 534.1,1556 534.7,1554.5 535.3,1553 536,1551.5 536.6,1550 537.3,1548.5 538,1547.1 538.6,1545.7 539.3,1544.3 540,1542.9 540.7,1541.6 541.4,1540.4 542.2,1539.1 542.9,1538 543.9,1536.6 544.8,1535.2 545.8,1533.9 546.7,1532.6 547.7,1531.4 548.7,1530.2 549.8,1529.1 550.8,1528 552,1526.9 553.1,1525.9 554.3,1524.9 555.6,1524 556.8,1523.1 558.1,1522.3 559.5,1521.4 560.9,1520.6 562.3,1519.8 563.8,1519 565.3,1518.3 566.8,1517.7 568.4,1517.1 569.9,1516.6 571.4,1516.2 572.9,1515.9 574.4,1515.7 575.9,1515.6 577.4,1515.7 578.8,1515.9 580.3,1516.2 581.8,1516.6 583.3,1517.1 584.8,1517.7 586.3,1518.4 587.8,1519.1 589.3,1519.9 590.7,1520.7 592.2,1521.5 593.5,1522.3 594.9,1523.2 596.2,1524 597.5,1524.9 598.8,1525.8 600,1526.8 601.2,1527.9 602.4,1528.9 603.5,1530 604.6,1531.2 605.8,1532.3 606.9,1533.5 608,1534.6 609.1,1535.7 610.2,1536.9 611.4,1538 612.5,1539.1 613.6,1540.1 614.7,1541.2 615.8,1542.3 616.8,1543.4 617.9,1544.5 619,1545.6 620.1,1546.7 621.2,1547.8 622.3,1548.9 623.4,1549.9 624.5,1551 625.6,1552 626.7,1553 627.9,1554.1 629.1,1555.2 630.3,1556.3 631.5,1557.3 632.6,1558.4 633.8,1559.4 635.1,1560.4 636.3,1561.4 637.6,1562.4 639,1563.3 640.4,1564.2 641.9,1565 643.1,1565.6 644.4,1566.3 645.7,1566.9 647.1,1567.5 648.5,1568.1 649.9,1568.7 651.4,1569.3 652.9,1569.8 654.4,1570.3 656,1570.8 657.5,1571.3 659.1,1571.7 660.6,1572.1 662.2,1572.5 663.7,1572.8 665.3,1573 666.8,1573.3 668.3,1573.4 669.8,1573.5 671.3,1573.5 672.7,1573.5 674.2,1573.4 675.7,1573.2 677.2,1573 678.7,1572.7 680.2,1572.4 681.6,1572.1 683.1,1571.7 684.6,1571.3 686.1,1570.9 687.6,1570.4 689.1,1570 690.5,1569.6 692,1569.1 693.5,1568.7 694.9,1568.3 696.4,1567.9 697.8,1567.6 699.3,1567.2 700.8,1566.9 702.3,1566.5 703.7,1566.2 705.2,1565.8 706.6,1565.4 708,1565 709.5,1564.7 710.9,1564.3 712.4,1563.9 713.8,1563.5 715.3,1563.1 716.8,1562.8 718.4,1562.4 719.9,1562 721.5,1561.7 723.2,1561.3 724.5,1561 725.9,1560.7 727.3,1560.4 728.7,1560.1 730.2,1559.8 731.6,1559.5 733.1,1559.1 734.6,1558.8 736.1,1558.5 737.6,1558.1 739.2,1557.8 740.7,1557.5 742.3,1557.2 743.8,1556.9 745.4,1556.6 747,1556.3 748.5,1556 750.1,1555.7 751.6,1555.4 753.2,1555.2 754.8,1555 756.3,1554.8 757.8,1554.6 759.3,1554.4 760.8,1554.2 762.3,1554.1 763.8,1554 765.4,1553.9 767,1553.8 768.5,1553.8 770.1,1553.8 771.7,1553.8 773.2,1553.8 774.7,1553.9 776.3,1553.9 777.8,1554 779.4,1554.1 780.9,1554.2 782.4,1554.3 784,1554.4 785.5,1554.6 787,1554.7 788.5,1554.8 790.1,1555 791.6,1555.1 793.2,1555.2 794.7,1555.4 796.3,1555.5 797.8,1555.6 799.4,1555.7 800.9,1555.8 802.4,1555.9 803.9,1556 805.5,1556.1 807,1556.3 808.5,1556.4 810.1,1556.5 811.6,1556.7 813.1,1556.8 814.7,1556.9 816.2,1557.1 817.8,1557.2 819.3,1557.4 820.9,1557.5 822.4,1557.6 824,1557.8 825.5,1557.9 827,1558 828.5,1558.1 830.1,1558.3 831.6,1558.4 833.1,1558.5 834.5,1558.6 836,1558.6 837.5,1558.7 839.1,1558.8 840.7,1558.8 842.2,1558.9 843.8,1558.9 845.3,1558.9 846.9,1559 848.4,1559 849.9,1559 851.4,1559 852.9,1559 854.5,1559 856,1559 857.5,1559 859,1559 860.5,1559 862.1,1559 863.6,1559 865.2,1559 866.8,1559 868.4,1559 870,1559 871.4,1559 872.8,1559 874.2,1559 875.5,1559 876.7,1559 878,1559 879.2,1559 880.5,1559 881.7,1559 883,1559 884.2,1559 885.5,1559 886.9,1559 888.2,1559 889.6,1559 891.1,1559 892.6,1559 894.2,1559 895.8,1559 897.5,1559 899.4,1559 901.3,1559 903.3,1559 905.4,1559 907.6,1559 910,1559 910.6,1559 911.3,1559 911.9,1559 912.6,1559 913.3,1559 914,1559 914.7,1559 915.4,1559 916.1,1559 916.8,1559 917.6,1559 918.3,1559 919,1559 919.8,1559 920.6,1559 921.4,1559 922.1,1559 922.9,1559 923.7,1559 924.5,1559 925.4,1559 926.2,1559 927,1559 927.9,1559 928.7,1559 929.6,1559 930.5,1559 931.3,1559 932.2,1559 933.1,1559 934,1559 934.9,1559 935.9,1559 936.8,1559 937.7,1559 938.7,1559 939.6,1559 940.6,1559 941.6,1559 942.5,1559 943.5,1559 944.5,1559 945.5,1559 946.5,1559 947.5,1559 948.6,1559 949.6,1559 950.6,1559 951.7,1559 952.7,1559 953.8,1559 954.9,1559 955.9,1559 957,1559 958.1,1559 959.2,1559 960.3,1559 961.4,1559 962.5,1559 963.7,1559 964.8,1559 965.9,1559 967.1,1559 968.2,1559 969.4,1559 970.6,1559 971.8,1559 972.9,1559 974.1,1559 975.3,1559 976.5,1559 977.7,1559 978.9,1559 980.2,1559 981.4,1559 982.6,1559 983.9,1559 985.1,1559 986.4,1559 987.6,1559 988.9,1559 990.2,1559 991.5,1559 992.7,1559 994,1559 995.3,1559 996.6,1559 998,1559 999.3,1559 1000.6,1559 1001.9,1559 1003.3,1559 1004.6,1559 1005.9,1559 1007.3,1559 1008.7,1559 1010,1559 1011.4,1559 1012.8,1559 1014.1,1559 1015.5,1559 1016.9,1559 1018.3,1559 1019.7,1559 1021.1,1559 1022.5,1559 1024,1559 1025.4,1559 1026.8,1559 1028.3,1559 1029.7,1559 1031.1,1559 1032.6,1559 1034,1559 1035.5,1559 1037,1559 1038.4,1559 1039.9,1559 1041.4,1559 1042.9,1559 1044.4,1559 1045.9,1559 1047.4,1559 1048.9,1559 1050.4,1559 1051.9,1559 1053.4,1559 1054.9,1559 1056.4,1559 1058,1559 1059.5,1559 1061.1,1559 1062.6,1559 1064.1,1559 1065.7,1559 1067.3,1559 1068.8,1559 1070.4,1559 1072,1559 1073.5,1559 1075.1,1559 1076.7,1559 1078.3,1559 1079.9,1559 1081.5,1559 1083.1,1559 1084.7,1559 1086.3,1559 1087.9,1559 1089.5,1559 1091.1,1559 1092.7,1559 1094.3,1559 1096,1559 1097.6,1559 1099.2,1559 1100.9,1559 1102.5,1559 1104.1,1559 1105.8,1559 1107.4,1559 1109.1,1559 1110.8,1559 1112.4,1559 1114.1,1559 1115.7,1559 1117.4,1559 1119.1,1559 1120.8,1559 1122.4,1559 1124.1,1559 1125.8,1559 1127.5,1559 1129.2,1559 1130.9,1559 1132.6,1559 1134.3,1559 1136,1559 1137.7,1559 1139.4,1559 1141.1,1559 1142.8,1559 1144.5,1559 1146.2,1559 1147.9,1559 1149.7,1559 1151.4,1559 1153.1,1559 1154.8,1559 1156.6,1559 1158.3,1559 1160,1559 1161.8,1559 1163.5,1559 1165.2,1559 1167,1559 1168.7,1559 1170.5,1559 1172.2,1559 1174,1559 1175.7,1559 1177.5,1559 1179.2,1559 1181,1559 1182.7,1559 1184.5,1559 1186.3,1559 1188,1559 1189.8,1559 1191.5,1559 1193.3,1559 1195.1,1559 1196.8,1559 1198.6,1559 1200.4,1559 1202.2,1559 1203.9,1559 1205.7,1559 1207.5,1559 1209.3,1559 1211,1559 1212.8,1559 1214.6,1559 1216.4,1559 1218.2,1559 1219.9,1559 1221.7,1559 1223.5,1559 1225.3,1559 1227.1,1559 1228.9,1559 1230.6,1559 1232.4,1559 1234.2,1559 1236,1559 1237.8,1559 1239.6,1559 1241.4,1559 1243.2,1559 1244.9,1559 1246.7,1559 1248.5,1559 1250.3,1559 1252.1,1559 1253.9,1559 1255.7,1559 1257.5,1559 1259.3,1559 1261,1559 1262.8,1559 1264.6,1559 1266.4,1559 1268.2,1559 1270,1559 1271.8,1559 1273.6,1559 1275.4,1559 1277.1,1559 1278.9,1559 1280.7,1559 1282.5,1559 1284.3,1559 1286.1,1559 1287.9,1559 1289.6,1559 1291.4,1559 1293.2,1559 1295,1559 1296.8,1559 1298.5,1559 1300.3,1559 1302.1,1559 1303.9,1559 1305.7,1559 1307.4,1559 1309.2,1559 1311,1559 1312.7,1559 1314.5,1559 1316.3,1559 1318.1,1559 1319.8,1559 1321.6,1559 1323.3,1559 1325.1,1559 1326.9,1559 1328.6,1559 1330.4,1559 1332.1,1559 1333.9,1559 1335.6,1559 1337.4,1559 1339.1,1559 1340.9,1559 1342.6,1559 1344.4,1559 1346.1,1559 1347.9,1559 1349.6,1559 1351.3,1559 1353.1,1559 1354.8,1559 1356.5,1559 1358.2,1559 1360,1559 1361.7,1559 1363.4,1559 1365.1,1559 1366.8,1559 1368.6,1559 1370.3,1559 1372,1559 1373.7,1559 1375.4,1559 1377.1,1559 1378.8,1559 1380.5,1559 1382.2,1559 1383.9,1559 1385.6,1559 1387.2,1559 1388.9,1559 1390.6,1559 1392.3,1559 1393.9,1559 1395.6,1559 1397.3,1559 1398.9,1559 1400.6,1559 1402.3,1559 1403.9,1559 1405.6,1559 1407.2,1559 1408.9,1559 1410.5,1559 1412.1,1559 1413.8,1559 1415.4,1559 1417,1559 1418.6,1559 1420.3,1559 1421.9,1559 1423.5,1559 1425.1,1559 1426.7,1559 1428.3,1559 1429.9,1559 1431.5,1559 1433.1,1559 1434.7,1559 1436.3,1559 1437.8,1559 1439.4,1559 1441,1559 1442.5,1559 1444.1,1559 1445.7,1559 1447.2,1559 1448.8,1559 1450.3,1559 1451.8,1559 1453.4,1559 1454.9,1559 1456.4,1559 1458,1559 1459.5,1559 1461,1559 1462.5,1559 1464,1559" fill="none" stroke="#d7242b" stroke-width="6" stroke-dasharray="5.8 4.8"/>
<path d="M286,1559L287.5,1559 289,1559 290.6,1559 292.1,1559 293.7,1559 295.3,1559 296.9,1559 298.5,1559 300.1,1559 301.7,1559 303.4,1559 305,1559 306.7,1559 308.3,1559 310,1559 311.7,1559 313.3,1559 315,1559 316.7,1559 318.4,1559 320.1,1559 321.9,1559 323.6,1559 325.3,1559 327,1559 328.7,1559 330.5,1559 332.2,1559 333.9,1559 335.6,1559 337.4,1559 339.1,1559 340.8,1559 342.5,1559 344.3,1559 346,1559 347.7,1559 349.4,1559 351.1,1559 352.8,1559 354.5,1559 356.2,1559 357.9,1559 359.6,1559 361.2,1559 362.9,1559 364.6,1559 366.2,1559 367.9,1559 369.5,1559 371.1,1559 372.7,1559 374.3,1559 375.9,1559 377.5,1559 379,1559 380.6,1559 382.1,1559 383.6,1559 385.1,1559 386.6,1559 388.1,1559 389.5,1559 391,1559 392.4,1559 393.8,1559 395.2,1559 396.6,1559 397.9,1559 399.2,1559 400.5,1559 401.8,1559 403.1,1559 404.3,1559 405.5,1559 406.7,1559 407.9,1559 409.1,1559 410.2,1559 411.3,1559 412.4,1559 413.4,1559 414.4,1559 415.4,1559 416.4,1559 417.4,1559 418.3,1559 419.1,1559 420,1559 422.1,1559 424.1,1559 425.9,1559 427.6,1559 429.2,1559 430.7,1559 432.1,1559 433.4,1559 434.7,1559 436,1559 437.3,1559 438.7,1559 440,1559 441.8,1559.1 443.6,1559.2 445.4,1559.3 447.1,1559.5 448.8,1559.6 450.3,1559.5 451.7,1559.4 453,1559 454.5,1558.1 455.8,1557 456.9,1555.6 458,1554 458.7,1552.9 459.3,1551.7 460,1550.3 460.6,1548.9 461.2,1547.4 461.8,1545.8 462.4,1544.2 463.1,1542.6 463.7,1541 464.3,1539.5 465,1538 465.7,1536.5 466.3,1534.8 467,1533.1 467.7,1531.3 468.4,1529.5 469.1,1527.8 469.8,1526.3 470.5,1525 471.2,1524 471.9,1523.3 472.6,1523 473.7,1523.4 474.8,1524.5 475.9,1526.2 477,1528.1 478,1530 478.6,1531.1 479.1,1532.3 479.7,1533.6 480.2,1535 480.7,1536.5 481.2,1538 481.7,1539.5 482.2,1541.1 482.6,1542.7 483.1,1544.3 483.7,1545.9 484.2,1547.4 484.7,1549 485.2,1550.4 485.7,1551.9 486.2,1553.3 486.8,1554.8 487.3,1556.3 487.9,1557.8 488.4,1559.3 489,1560.8 489.5,1562.3 490.1,1563.8 490.6,1565.4 491.1,1566.9 491.6,1568.4 492.1,1570 492.6,1571.5 493,1573 493.4,1574.6 493.8,1576.3 494.1,1578.1 494.4,1580 494.7,1581.9 494.9,1583.9 495.2,1585.8 495.5,1587.7 495.7,1589.5 496,1591.2 496.3,1592.7 496.7,1594 497,1595.2 497.4,1596.1 497.9,1596.7 498.4,1597 499.4,1596.9 500.4,1596.1 501.5,1594.8 502.7,1593.3 503.9,1591.6 505,1590 505.7,1588.9 506.5,1587.8 507.2,1586.5 507.9,1585.1 508.7,1583.7 509.4,1582.2 510.2,1580.8 510.9,1579.3 511.7,1577.9 512.4,1576.5 513.2,1575.2 513.9,1574.1 514.7,1573 515.9,1571.6 517,1570.3 518.2,1569.1 519.4,1568.1 520.7,1567 522,1566 523.3,1565 524.6,1564.1 525.9,1563.2 527.3,1562.3 528.8,1561.4 530.3,1560.7 532,1560 533.3,1559.6 534.7,1559.1 536.2,1558.8 537.7,1558.5 539.2,1558.2 540.8,1557.9 542.4,1557.7 544.1,1557.5 545.8,1557.4 547.5,1557.2 549.3,1557.1 551,1557 552.4,1556.9 553.8,1556.9 555.2,1556.9 556.7,1557 558.2,1557 559.7,1557.1 561.2,1557.2 562.7,1557.3 564.3,1557.4 565.9,1557.5 567.4,1557.6 569,1557.8 570.6,1557.9 572.2,1558 573.8,1558.1 575.3,1558.3 576.9,1558.4 578.5,1558.4 580,1558.5 581.5,1558.5 583,1558.6 584.4,1558.6 585.9,1558.7 587.4,1558.7 588.8,1558.7 590.3,1558.8 591.8,1558.8 593.2,1558.8 594.7,1558.8 596.2,1558.9 597.7,1558.9 599.2,1558.9 600.7,1558.9 602.2,1558.9 603.7,1558.9 605.3,1559 606.8,1559 608.4,1559 610,1559 611.4,1559 612.7,1559 614.1,1559 615.3,1559 616.6,1559 617.8,1559 619,1559 620.2,1559 621.4,1559 622.6,1559 623.9,1559 625.2,1559 626.5,1559 627.8,1559 629.2,1559 630.6,1559 632.2,1559 633.7,1559 635.4,1559 637.2,1559 639,1559 641,1559 643,1559 645.2,1559 647.6,1559 650,1559 650.5,1559 651.1,1559 651.7,1559 652.2,1559 652.8,1559 653.4,1559 654,1559 654.6,1559 655.2,1559 655.8,1559 656.4,1559 657,1559 657.7,1559 658.3,1559 659,1559 659.6,1559 660.3,1559 660.9,1559 661.6,1559 662.3,1559 663,1559 663.7,1559 664.4,1559 665.1,1559 665.8,1559 666.5,1559 667.2,1559 668,1559 668.7,1559 669.4,1559 670.2,1559 670.9,1559 671.7,1559 672.5,1559 673.3,1559 674,1559 674.8,1559 675.6,1559 676.4,1559 677.2,1559 678.1,1559 678.9,1559 679.7,1559 680.5,1559 681.4,1559 682.2,1559 683.1,1559 683.9,1559 684.8,1559 685.7,1559 686.5,1559 687.4,1559 688.3,1559 689.2,1559 690.1,1559 691,1559 691.9,1559 692.9,1559 693.8,1559 694.7,1559 695.6,1559 696.6,1559 697.5,1559 698.5,1559 699.4,1559 700.4,1559 701.4,1559 702.4,1559 703.3,1559 704.3,1559 705.3,1559 706.3,1559 707.3,1559 708.3,1559 709.4,1559 710.4,1559 711.4,1559 712.4,1559 713.5,1559 714.5,1559 715.6,1559 716.6,1559 717.7,1559 718.8,1559 719.8,1559 720.9,1559 722,1559 723.1,1559 724.2,1559 725.3,1559 726.4,1559 727.5,1559 728.6,1559 729.7,1559 730.8,1559 732,1559 733.1,1559 734.3,1559 735.4,1559 736.6,1559 737.7,1559 738.9,1559 740,1559 741.2,1559 742.4,1559 743.6,1559 744.8,1559 745.9,1559 747.1,1559 748.3,1559 749.5,1559 750.8,1559 752,1559 753.2,1559 754.4,1559 755.6,1559 756.9,1559 758.1,1559 759.4,1559 760.6,1559 761.9,1559 763.1,1559 764.4,1559 765.7,1559 766.9,1559 768.2,1559 769.5,1559 770.8,1559 772.1,1559 773.4,1559 774.7,1559 776,1559 777.3,1559 778.6,1559 779.9,1559 781.2,1559 782.6,1559 783.9,1559 785.2,1559 786.6,1559 787.9,1559 789.3,1559 790.6,1559 792,1559 793.3,1559 794.7,1559 796.1,1559 797.4,1559 798.8,1559 800.2,1559 801.6,1559 803,1559 804.4,1559 805.8,1559 807.2,1559 808.6,1559 810,1559 811.4,1559 812.8,1559 814.2,1559 815.7,1559 817.1,1559 818.5,1559 820,1559 821.4,1559 822.9,1559 824.3,1559 825.8,1559 827.2,1559 828.7,1559 830.2,1559 831.6,1559 833.1,1559 834.6,1559 836.1,1559 837.5,1559 839,1559 840.5,1559 842,1559 843.5,1559 845,1559 846.5,1559 848,1559 849.5,1559 851,1559 852.6,1559 854.1,1559 855.6,1559 857.1,1559 858.7,1559 860.2,1559 861.7,1559 863.3,1559 864.8,1559 866.4,1559 867.9,1559 869.5,1559 871,1559 872.6,1559 874.2,1559 875.7,1559 877.3,1559 878.9,1559 880.5,1559 882,1559 883.6,1559 885.2,1559 886.8,1559 888.4,1559 890,1559 891.6,1559 893.2,1559 894.8,1559 896.4,1559 898,1559 899.6,1559 901.2,1559 902.9,1559 904.5,1559 906.1,1559 907.7,1559 909.4,1559 911,1559 912.6,1559 914.3,1559 915.9,1559 917.6,1559 919.2,1559 920.8,1559 922.5,1559 924.2,1559 925.8,1559 927.5,1559 929.1,1559 930.8,1559 932.5,1559 934.1,1559 935.8,1559 937.5,1559 939.1,1559 940.8,1559 942.5,1559 944.2,1559 945.9,1559 947.6,1559 949.3,1559 950.9,1559 952.6,1559 954.3,1559 956,1559 957.7,1559 959.4,1559 961.1,1559 962.8,1559 964.6,1559 966.3,1559 968,1559 969.7,1559 971.4,1559 973.1,1559 974.9,1559 976.6,1559 978.3,1559 980,1559 981.8,1559 983.5,1559 985.2,1559 987,1559 988.7,1559 990.4,1559 992.2,1559 993.9,1559 995.7,1559 997.4,1559 999.2,1559 1000.9,1559 1002.7,1559 1004.4,1559 1006.2,1559 1007.9,1559 1009.7,1559 1011.4,1559 1013.2,1559 1015,1559 1016.7,1559 1018.5,1559 1020.2,1559 1022,1559 1023.8,1559 1025.6,1559 1027.3,1559 1029.1,1559 1030.9,1559 1032.6,1559 1034.4,1559 1036.2,1559 1038,1559 1039.8,1559 1041.5,1559 1043.3,1559 1045.1,1559 1046.9,1559 1048.7,1559 1050.5,1559 1052.3,1559 1054.1,1559 1055.8,1559 1057.6,1559 1059.4,1559 1061.2,1559 1063,1559 1064.8,1559 1066.6,1559 1068.4,1559 1070.2,1559 1072,1559 1073.8,1559 1075.6,1559 1077.4,1559 1079.2,1559 1081,1559 1082.8,1559 1084.6,1559 1086.4,1559 1088.3,1559 1090.1,1559 1091.9,1559 1093.7,1559 1095.5,1559 1097.3,1559 1099.1,1559 1100.9,1559 1102.7,1559 1104.6,1559 1106.4,1559 1108.2,1559 1110,1559 1111.8,1559 1113.6,1559 1115.4,1559 1117.3,1559 1119.1,1559 1120.9,1559 1122.7,1559 1124.5,1559 1126.3,1559 1128.2,1559 1130,1559 1131.8,1559 1133.6,1559 1135.4,1559 1137.3,1559 1139.1,1559 1140.9,1559 1142.7,1559 1144.5,1559 1146.4,1559 1148.2,1559 1150,1559 1151.8,1559 1153.6,1559 1155.5,1559 1157.3,1559 1159.1,1559 1160.9,1559 1162.7,1559 1164.6,1559 1166.4,1559 1168.2,1559 1170,1559 1171.9,1559 1173.7,1559 1175.5,1559 1177.3,1559 1179.1,1559 1180.9,1559 1182.8,1559 1184.6,1559 1186.4,1559 1188.2,1559 1190,1559 1191.9,1559 1193.7,1559 1195.5,1559 1197.3,1559 1199.1,1559 1200.9,1559 1202.7,1559 1204.6,1559 1206.4,1559 1208.2,1559 1210,1559 1211.8,1559 1213.6,1559 1215.4,1559 1217.2,1559 1219,1559 1220.9,1559 1222.7,1559 1224.5,1559 1226.3,1559 1228.1,1559 1229.9,1559 1231.7,1559 1233.5,1559 1235.3,1559 1237.1,1559 1238.9,1559 1240.7,1559 1242.5,1559 1244.3,1559 1246.1,1559 1247.9,1559 1249.7,1559 1251.5,1559 1253.3,1559 1255,1559 1256.8,1559 1258.6,1559 1260.4,1559 1262.2,1559 1264,1559 1265.8,1559 1267.6,1559 1269.3,1559 1271.1,1559 1272.9,1559 1274.7,1559 1276.4,1559 1278.2,1559 1280,1559 1281.8,1559 1283.5,1559 1285.3,1559 1287.1,1559 1288.8,1559 1290.6,1559 1292.4,1559 1294.1,1559 1295.9,1559 1297.7,1559 1299.4,1559 1301.2,1559 1302.9,1559 1304.7,1559 1306.4,1559 1308.2,1559 1309.9,1559 1311.7,1559 1313.4,1559 1315.2,1559 1316.9,1559 1318.6,1559 1320.4,1559 1322.1,1559 1323.9,1559 1325.6,1559 1327.3,1559 1329,1559 1330.8,1559 1332.5,1559 1334.2,1559 1335.9,1559 1337.7,1559 1339.4,1559 1341.1,1559 1342.8,1559 1344.5,1559 1346.2,1559 1347.9,1559 1349.6,1559 1351.3,1559 1353,1559 1354.7,1559 1356.4,1559 1358.1,1559 1359.8,1559 1361.5,1559 1363.2,1559 1364.9,1559 1366.6,1559 1368.2,1559 1369.9,1559 1371.6,1559 1373.3,1559 1374.9,1559 1376.6,1559 1378.3,1559 1379.9,1559 1381.6,1559 1383.2,1559 1384.9,1559 1386.6,1559 1388.2,1559 1389.9,1559 1391.5,1559 1393.1,1559 1394.8,1559 1396.4,1559 1398,1559 1399.7,1559 1401.3,1559 1402.9,1559 1404.6,1559 1406.2,1559 1407.8,1559 1409.4,1559 1411,1559 1412.6,1559 1414.2,1559 1415.8,1559 1417.4,1559 1419,1559 1420.6,1559 1422.2,1559 1423.8,1559 1425.4,1559 1427,1559 1428.6,1559 1430.1,1559 1431.7,1559 1433.3,1559 1434.8,1559 1436.4,1559 1438,1559 1439.5,1559 1441.1,1559 1442.6,1559 1444.2,1559 1445.7,1559 1447.3,1559 1448.8,1559 1450.3,1559 1451.9,1559 1453.4,1559 1454.9,1559 1456.4,1559 1458,1559 1459.5,1559 1461,1559 1462.5,1559 1464,1559" fill="none" stroke="#3050a8" stroke-width="6" stroke-linejoin="round"/>
<path d="M286,1559L287.5,1559 289,1559 290.6,1559 292.1,1559 293.7,1559 295.3,1559 296.9,1559 298.5,1559 300.1,1559 301.7,1559 303.4,1559 305,1559 306.7,1559 308.3,1559 310,1559 311.7,1559 313.3,1559 315,1559 316.7,1559 318.4,1559 320.1,1559 321.9,1559 323.6,1559 325.3,1559 327,1559 328.7,1559 330.5,1559 332.2,1559 333.9,1559 335.6,1559 337.4,1559 339.1,1559 340.8,1559 342.5,1559 344.3,1559 346,1559 347.7,1559 349.4,1559 351.1,1559 352.8,1559 354.5,1559 356.2,1559 357.9,1559 359.6,1559 361.2,1559 362.9,1559 364.6,1559 366.2,1559 367.9,1559 369.5,1559 371.1,1559 372.7,1559 374.3,1559 375.9,1559 377.5,1559 379,1559 380.6,1559 382.1,1559 383.6,1559 385.1,1559 386.6,1559 388.1,1559 389.5,1559 391,1559 392.4,1559 393.8,1559 395.2,1559 396.6,1559 397.9,1559 399.2,1559 400.5,1559 401.8,1559 403.1,1559 404.3,1559 405.5,1559 406.7,1559 407.9,1559 409.1,1559 410.2,1559 411.3,1559 412.4,1559 413.4,1559 414.4,1559 415.4,1559 416.4,1559 417.4,1559 418.3,1559 419.1,1559 420,1559 422.1,1559 424.1,1559 426,1559 427.7,1559 429.3,1559 430.8,1559 432.2,1559 433.6,1559 434.9,1559 436.2,1559 437.5,1559 438.7,1559 440,1559 441.7,1559.1 443.5,1559.3 445.2,1559.6 446.7,1559.8 448.2,1559.8 449.5,1559.6 450.5,1559 451.2,1558.1 451.7,1557.1 452,1555.7 452.2,1554.3 452.3,1552.6 452.3,1550.8 452.3,1548.9 452.4,1547 452.5,1545 452.6,1543.9 452.7,1542.8 452.8,1541.6 452.9,1540.4 452.9,1539.2 453,1538 453.1,1536.7 453.2,1535.4 453.2,1534.1 453.3,1532.7 453.3,1531.3 453.4,1529.9 453.5,1528.4 453.5,1526.9 453.6,1525.4 453.6,1523.9 453.7,1522.3 453.7,1520.8 453.8,1519.2 453.8,1517.5 453.9,1515.9 453.9,1514.2 453.9,1512.5 454,1510.8 454,1509 454.1,1507.3 454.1,1505.5 454.2,1503.7 454.2,1501.8 454.3,1500 454.3,1498.8 454.4,1497.6 454.4,1496.4 454.4,1495.2 454.5,1494 454.5,1492.7 454.5,1491.4 454.6,1490.1 454.6,1488.8 454.6,1487.5 454.7,1486.1 454.7,1484.8 454.7,1483.4 454.8,1482 454.8,1480.6 454.8,1479.1 454.9,1477.7 454.9,1476.3 454.9,1474.8 454.9,1473.3 455,1471.8 455,1470.3 455,1468.8 455.1,1467.3 455.1,1465.8 455.1,1464.2 455.2,1462.7 455.2,1461.1 455.2,1459.5 455.2,1458 455.3,1456.4 455.3,1454.8 455.3,1453.2 455.4,1451.6 455.4,1450 455.4,1448.4 455.4,1446.7 455.5,1445.1 455.5,1443.5 455.5,1441.9 455.6,1440.2 455.6,1438.6 455.6,1437 455.6,1435.3 455.7,1433.7 455.7,1432 455.7,1430.4 455.8,1428.8 455.8,1427.1 455.8,1425.5 455.8,1423.9 455.9,1422.2 455.9,1420.6 455.9,1419 456,1417.3 456,1415.7 456,1414.1 456,1412.5 456.1,1410.9 456.1,1409.3 456.1,1407.7 456.1,1406.1 456.2,1404.5 456.2,1403 456.2,1401.4 456.3,1399.8 456.3,1398.3 456.3,1396.8 456.3,1395.2 456.4,1393.7 456.4,1392.2 456.4,1390.7 456.5,1389.2 456.5,1387.8 456.5,1386.3 456.5,1384.8 456.6,1383.4 456.6,1382 456.6,1380.4 456.7,1378.8 456.7,1377.2 456.7,1375.6 456.8,1374 456.8,1372.4 456.8,1370.8 456.8,1369.2 456.9,1367.6 456.9,1366 456.9,1364.4 457,1362.8 457,1361.2 457,1359.6 457,1358 457.1,1356.4 457.1,1354.8 457.1,1353.2 457.1,1351.6 457.2,1350.1 457.2,1348.5 457.2,1346.9 457.2,1345.3 457.3,1343.8 457.3,1342.2 457.3,1340.7 457.3,1339.1 457.4,1337.6 457.4,1336 457.4,1334.5 457.5,1333 457.5,1331.4 457.5,1329.9 457.5,1328.4 457.6,1326.9 457.6,1325.4 457.6,1323.9 457.7,1322.4 457.7,1320.9 457.7,1319.5 457.7,1318 457.8,1316.6 457.8,1315.1 457.8,1313.7 457.9,1312.2 457.9,1310.8 458,1309.4 458,1308 458,1306.6 458.1,1305.2 458.1,1303.9 458.1,1302.5 458.2,1301.1 458.2,1299.8 458.3,1298.5 458.3,1297.2 458.4,1295.9 458.4,1294.6 458.5,1293.3 458.5,1292 458.6,1290.2 458.6,1288.4 458.7,1286.5 458.8,1284.6 458.8,1282.7 458.9,1280.7 459,1278.7 459.1,1276.7 459.1,1274.7 459.2,1272.7 459.3,1270.7 459.3,1268.7 459.4,1266.7 459.5,1264.8 459.6,1262.9 459.7,1261.1 459.7,1259.3 459.8,1257.6 459.9,1255.9 460,1254.3 460.1,1252.8 460.2,1251.4 460.3,1250.1 460.4,1248.9 460.5,1247.8 460.6,1246.9 460.7,1246 460.8,1245.3 460.9,1244.8 461,1244.3 461.1,1244.1 461.2,1244 461.4,1244.2 461.6,1244.8 461.8,1245.7 462,1246.9 462.3,1248.4 462.5,1250.1 462.7,1252 462.9,1253.9 463.2,1256 463.4,1258.1 463.6,1260.1 463.8,1262.1 464,1264 464.1,1265.2 464.2,1266.5 464.3,1267.8 464.4,1269.1 464.5,1270.5 464.6,1271.9 464.7,1273.3 464.8,1274.7 464.9,1276.2 465,1277.6 465.1,1279.1 465.2,1280.6 465.3,1282.2 465.3,1283.7 465.4,1285.3 465.5,1286.8 465.6,1288.4 465.6,1290 465.7,1291.6 465.8,1293.2 465.9,1294.8 466,1296.4 466,1298 466.1,1299.6 466.2,1301.2 466.3,1302.8 466.4,1304.4 466.5,1306 466.6,1307.4 466.7,1308.8 466.8,1310.3 466.9,1311.7 467,1313.1 467.1,1314.6 467.2,1316 467.3,1317.5 467.4,1319 467.5,1320.4 467.6,1321.9 467.7,1323.4 467.8,1324.9 467.9,1326.4 468,1327.9 468.1,1329.4 468.2,1330.9 468.3,1332.4 468.4,1333.9 468.5,1335.4 468.6,1337 468.7,1338.5 468.8,1340 468.9,1341.5 469,1343.1 469.1,1344.6 469.2,1346.1 469.3,1347.7 469.4,1349.2 469.5,1350.8 469.6,1352.3 469.7,1353.8 469.8,1355.4 469.8,1356.9 469.9,1358.5 470,1360 470.1,1361.5 470.1,1362.9 470.2,1364.4 470.3,1365.8 470.4,1367.3 470.4,1368.7 470.5,1370.2 470.6,1371.7 470.6,1373.1 470.7,1374.6 470.8,1376 470.8,1377.5 470.9,1379 471,1380.4 471,1381.9 471.1,1383.4 471.1,1384.8 471.2,1386.3 471.3,1387.8 471.3,1389.3 471.4,1390.7 471.4,1392.2 471.5,1393.7 471.5,1395.2 471.6,1396.7 471.7,1398.2 471.7,1399.7 471.8,1401.3 471.8,1402.8 471.9,1404.3 471.9,1405.9 471.9,1407.4 472,1408.9 472,1410.5 472.1,1412.1 472.1,1413.6 472.2,1415.2 472.2,1416.8 472.3,1418.4 472.3,1420 472.3,1421.4 472.4,1422.8 472.4,1424.2 472.4,1425.6 472.5,1427.1 472.5,1428.5 472.5,1429.9 472.6,1431.4 472.6,1432.8 472.6,1434.3 472.6,1435.7 472.7,1437.2 472.7,1438.6 472.7,1440.1 472.7,1441.5 472.7,1443 472.8,1444.5 472.8,1446 472.8,1447.5 472.8,1449 472.8,1450.4 472.9,1451.9 472.9,1453.4 472.9,1454.9 472.9,1456.5 472.9,1458 472.9,1459.5 473,1461 473,1462.5 473,1464 473,1465.6 473,1467.1 473,1468.6 473,1470.2 473.1,1471.7 473.1,1473.3 473.1,1474.8 473.1,1476.4 473.1,1477.9 473.1,1479.5 473.1,1481.1 473.1,1482.6 473.2,1484.2 473.2,1485.8 473.2,1487.3 473.2,1488.9 473.2,1490.5 473.2,1492.1 473.2,1493.6 473.3,1495.2 473.3,1496.8 473.3,1498.4 473.3,1500 473.3,1501.4 473.3,1502.9 473.3,1504.3 473.4,1505.8 473.4,1507.3 473.4,1508.7 473.4,1510.2 473.4,1511.7 473.4,1513.2 473.4,1514.7 473.4,1516.2 473.5,1517.7 473.5,1519.3 473.5,1520.8 473.5,1522.3 473.5,1523.9 473.5,1525.4 473.5,1526.9 473.5,1528.5 473.5,1530.1 473.6,1531.6 473.6,1533.2 473.6,1534.7 473.6,1536.3 473.6,1537.9 473.6,1539.4 473.6,1541 473.6,1542.6 473.6,1544.1 473.7,1545.7 473.7,1547.3 473.7,1548.8 473.7,1550.4 473.7,1552 473.7,1553.6 473.7,1555.1 473.7,1556.7 473.7,1558.2 473.7,1559.8 473.8,1561.4 473.8,1562.9 473.8,1564.5 473.8,1566 473.8,1567.6 473.8,1569.1 473.8,1570.6 473.8,1572.2 473.8,1573.7 473.8,1575.2 473.8,1576.7 473.9,1578.3 473.9,1579.8 473.9,1581.3 473.9,1582.7 473.9,1584.2 473.9,1585.7 473.9,1587.2 473.9,1588.6 473.9,1590.1 473.9,1591.5 474,1593 474,1594.4 474,1595.8 474,1597.2 474,1598.6 474,1600 474,1601.6 474,1603.3 474,1604.9 474,1606.5 474,1608.1 474.1,1609.7 474.1,1611.3 474.1,1612.8 474.1,1614.4 474.1,1615.9 474.1,1617.4 474.1,1619 474.1,1620.5 474.1,1622 474.1,1623.5 474.1,1625 474.1,1626.5 474.1,1627.9 474.1,1629.4 474.1,1630.9 474.1,1632.4 474.1,1633.8 474.1,1635.3 474.1,1636.8 474.1,1638.2 474.1,1639.7 474.1,1641.2 474.1,1642.6 474.1,1644.1 474.2,1645.6 474.2,1647.1 474.2,1648.5 474.2,1650 474.2,1651.5 474.2,1653 474.2,1654.5 474.3,1656 474.3,1657.5 474.3,1659.1 474.3,1660.6 474.3,1662.1 474.4,1663.7 474.4,1665.2 474.4,1666.8 474.5,1668.4 474.5,1670 474.5,1671.4 474.6,1672.8 474.6,1674.3 474.6,1675.7 474.7,1677.1 474.7,1678.6 474.8,1680 474.8,1681.4 474.9,1682.9 474.9,1684.3 475,1685.8 475,1687.2 475.1,1688.7 475.1,1690.1 475.2,1691.6 475.2,1693 475.3,1694.5 475.3,1696 475.4,1697.4 475.4,1698.9 475.5,1700.4 475.6,1701.9 475.6,1703.4 475.7,1704.8 475.7,1706.3 475.8,1707.8 475.9,1709.3 475.9,1710.8 476,1712.3 476.1,1713.8 476.1,1715.3 476.2,1716.8 476.3,1718.3 476.3,1719.8 476.4,1721.3 476.4,1722.9 476.5,1724.4 476.6,1725.9 476.6,1727.4 476.7,1729 476.8,1730.5 476.8,1732 476.9,1733.6 477,1735.1 477,1736.7 477.1,1738.2 477.2,1739.8 477.2,1741.3 477.3,1742.9 477.3,1744.4 477.4,1746 477.5,1747.5 477.5,1749.1 477.6,1750.7 477.6,1752.3 477.7,1753.8 477.7,1755.4 477.8,1757 477.8,1758.4 477.9,1759.9 477.9,1761.3 478,1762.8 478,1764.2 478.1,1765.7 478.1,1767.1 478.2,1768.6 478.2,1770 478.3,1771.5 478.3,1773 478.4,1774.5 478.4,1775.9 478.5,1777.4 478.5,1778.9 478.6,1780.4 478.6,1781.9 478.7,1783.4 478.7,1784.9 478.8,1786.4 478.8,1787.9 478.8,1789.4 478.9,1790.9 478.9,1792.4 479,1794 479,1795.5 479.1,1797 479.1,1798.5 479.2,1800 479.2,1801.6 479.3,1803.1 479.3,1804.6 479.4,1806.2 479.4,1807.7 479.4,1809.2 479.5,1810.8 479.5,1812.3 479.6,1813.8 479.6,1815.4 479.7,1816.9 479.7,1818.5 479.8,1820 479.8,1821.5 479.9,1823.1 479.9,1824.6 479.9,1826.2 480,1827.7 480,1829.2 480.1,1830.8 480.1,1832.3 480.2,1833.9 480.2,1835.4 480.2,1837 480.3,1838.5 480.3,1840 480.4,1841.6 480.4,1843.1 480.4,1844.6 480.5,1846.2 480.5,1847.7 480.6,1849.3 480.6,1850.8 480.7,1852.3 480.7,1853.8 480.7,1855.4 480.8,1856.9 480.8,1858.4 480.8,1859.9 480.9,1861.5 480.9,1863 481,1864.5 481,1866 481,1867.5 481.1,1869 481.1,1870.5 481.1,1872.1 481.2,1873.6 481.2,1875.1 481.2,1876.7 481.3,1878.2 481.3,1879.8 481.3,1881.3 481.4,1882.9 481.4,1884.5 481.4,1886.1 481.5,1887.6 481.5,1889.2 481.5,1890.8 481.6,1892.4 481.6,1893.9 481.6,1895.5 481.7,1897.1 481.7,1898.7 481.7,1900.3 481.7,1901.9 481.8,1903.5 481.8,1905.1 481.8,1906.7 481.9,1908.3 481.9,1909.8 481.9,1911.4 481.9,1913 482,1914.6 482,1916.2 482,1917.8 482,1919.3 482.1,1920.9 482.1,1922.5 482.1,1924 482.2,1925.6 482.2,1927.2 482.2,1928.7 482.2,1930.3 482.3,1931.8 482.3,1933.3 482.3,1934.9 482.3,1936.4 482.4,1937.9 482.4,1939.4 482.4,1940.9 482.5,1942.4 482.5,1943.9 482.5,1945.4 482.5,1946.8 482.6,1948.3 482.6,1949.8 482.6,1951.2 482.7,1952.6 482.7,1954.1 482.7,1955.5 482.8,1956.9 482.8,1958.3 482.8,1959.6 482.9,1961 482.9,1962.4 482.9,1963.7 483,1965 483,1966.4 483,1967.7 483.1,1969 483.1,1970.2 483.1,1971.5 483.2,1972.8 483.2,1974 483.3,1975.8 483.3,1977.7 483.4,1979.6 483.4,1981.6 483.5,1983.6 483.5,1985.6 483.6,1987.7 483.6,1989.7 483.7,1991.8 483.7,1993.8 483.8,1995.9 483.9,1997.9 483.9,1999.9 484,2001.9 484,2003.9 484.1,2005.8 484.1,2007.7 484.2,2009.5 484.3,2011.2 484.3,2012.9 484.4,2014.5 484.5,2016.1 484.5,2017.5 484.6,2018.9 484.6,2020.2 484.7,2021.3 484.8,2022.4 484.9,2023.3 484.9,2024.1 485,2024.8 485.1,2025.3 485.1,2025.7 485.2,2025.9 485.3,2026 485.4,2025.9 485.5,2025.7 485.5,2025.3 485.6,2024.7 485.7,2024 485.8,2023.2 485.9,2022.3 486,2021.2 486.1,2020 486.2,2018.7 486.3,2017.4 486.3,2015.9 486.4,2014.3 486.5,2012.7 486.6,2011 486.7,2009.2 486.8,2007.3 486.9,2005.4 487,2003.5 487.1,2001.5 487.2,1999.6 487.3,1997.5 487.4,1995.5 487.5,1993.4 487.6,1991.4 487.7,1989.4 487.9,1987.3 488,1985.3 488.1,1983.3 488.2,1981.4 488.3,1979.4 488.4,1977.6 488.5,1975.8 488.6,1974 488.7,1972.7 488.8,1971.4 488.9,1970 488.9,1968.7 489,1967.3 489.1,1965.9 489.2,1964.5 489.3,1963.1 489.4,1961.7 489.5,1960.3 489.6,1958.9 489.7,1957.4 489.8,1956 489.9,1954.5 490,1953.1 490,1951.6 490.1,1950.1 490.2,1948.6 490.3,1947.2 490.4,1945.6 490.5,1944.1 490.6,1942.6 490.7,1941.1 490.8,1939.6 490.9,1938.1 491,1936.5 491.1,1935 491.2,1933.4 491.3,1931.9 491.4,1930.3 491.5,1928.8 491.6,1927.2 491.7,1925.7 491.8,1924.1 491.9,1922.6 492,1921 492.1,1919.4 492.2,1917.9 492.3,1916.3 492.4,1914.7 492.5,1913.2 492.6,1911.6 492.7,1910.1 492.8,1908.5 492.9,1906.9 493,1905.4 493.1,1903.8 493.2,1902.3 493.3,1900.7 493.3,1899.2 493.4,1897.6 493.5,1896.1 493.6,1894.6 493.7,1893.1 493.8,1891.5 493.8,1890 493.9,1888.5 494,1887 494.1,1885.5 494.2,1884 494.2,1882.5 494.3,1881 494.4,1879.6 494.5,1878.1 494.5,1876.6 494.6,1875.1 494.7,1873.7 494.7,1872.2 494.8,1870.8 494.9,1869.3 495,1867.8 495,1866.4 495.1,1864.9 495.2,1863.5 495.2,1862 495.3,1860.6 495.4,1859.1 495.4,1857.7 495.5,1856.2 495.6,1854.8 495.6,1853.3 495.7,1851.9 495.7,1850.4 495.8,1849 495.9,1847.5 495.9,1846.1 496,1844.6 496.1,1843.1 496.1,1841.7 496.2,1840.2 496.2,1838.7 496.3,1837.2 496.3,1835.8 496.4,1834.3 496.5,1832.8 496.5,1831.3 496.6,1829.8 496.6,1828.3 496.7,1826.8 496.7,1825.3 496.8,1823.7 496.8,1822.2 496.9,1820.7 496.9,1819.1 497,1817.6 497,1816 497.1,1814.5 497.1,1812.9 497.2,1811.3 497.2,1809.7 497.3,1808.1 497.3,1806.5 497.4,1804.9 497.4,1803.3 497.5,1801.6 497.5,1800 497.5,1798.6 497.6,1797.3 497.6,1795.9 497.6,1794.5 497.7,1793.1 497.7,1791.7 497.7,1790.3 497.8,1788.9 497.8,1787.4 497.8,1786 497.8,1784.6 497.9,1783.1 497.9,1781.7 497.9,1780.2 498,1778.7 498,1777.3 498,1775.8 498,1774.3 498.1,1772.8 498.1,1771.3 498.1,1769.8 498.1,1768.3 498.1,1766.8 498.2,1765.3 498.2,1763.8 498.2,1762.2 498.2,1760.7 498.3,1759.2 498.3,1757.6 498.3,1756.1 498.3,1754.6 498.3,1753 498.3,1751.5 498.4,1749.9 498.4,1748.4 498.4,1746.8 498.4,1745.3 498.4,1743.7 498.4,1742.1 498.5,1740.6 498.5,1739 498.5,1737.4 498.5,1735.9 498.5,1734.3 498.5,1732.7 498.5,1731.2 498.6,1729.6 498.6,1728 498.6,1726.5 498.6,1724.9 498.6,1723.3 498.6,1721.8 498.6,1720.2 498.6,1718.6 498.7,1717.1 498.7,1715.5 498.7,1713.9 498.7,1712.4 498.7,1710.8 498.7,1709.2 498.7,1707.7 498.7,1706.1 498.8,1704.6 498.8,1703 498.8,1701.5 498.8,1699.9 498.8,1698.4 498.8,1696.9 498.8,1695.3 498.8,1693.8 498.8,1692.3 498.8,1690.8 498.9,1689.2 498.9,1687.7 498.9,1686.2 498.9,1684.7 498.9,1683.2 498.9,1681.7 498.9,1680.2 498.9,1678.8 498.9,1677.3 499,1675.8 499,1674.4 499,1672.9 499,1671.4 499,1670 499,1668.4 499,1666.9 499,1665.3 499,1663.7 499.1,1662.2 499.1,1660.6 499.1,1659 499.1,1657.4 499.1,1655.9 499.1,1654.3 499.1,1652.8 499.1,1651.2 499.1,1649.6 499.1,1648.1 499.2,1646.5 499.2,1644.9 499.2,1643.4 499.2,1641.8 499.2,1640.3 499.2,1638.7 499.2,1637.2 499.2,1635.6 499.2,1634.1 499.2,1632.5 499.2,1631 499.2,1629.4 499.2,1627.9 499.3,1626.3 499.3,1624.8 499.3,1623.3 499.3,1621.7 499.3,1620.2 499.3,1618.7 499.3,1617.1 499.3,1615.6 499.3,1614.1 499.3,1612.6 499.3,1611.1 499.3,1609.6 499.3,1608.1 499.3,1606.6 499.3,1605.1 499.3,1603.6 499.3,1602.1 499.4,1600.6 499.4,1599.1 499.4,1597.6 499.4,1596.1 499.4,1594.6 499.4,1593.2 499.4,1591.7 499.4,1590.2 499.4,1588.8 499.4,1587.3 499.4,1585.9 499.4,1584.4 499.4,1583 499.4,1581.6 499.4,1580.1 499.4,1578.7 499.4,1577.3 499.4,1575.9 499.4,1574.5 499.4,1573.1 499.5,1571.7 499.5,1570.3 499.5,1568.9 499.5,1567.5 499.5,1566.1 499.5,1564.7 499.5,1563.4 499.5,1562 499.5,1560.4 499.5,1558.7 499.5,1557.1 499.5,1555.5 499.5,1553.9 499.5,1552.3 499.6,1550.7 499.6,1549.1 499.6,1547.6 499.6,1546 499.6,1544.5 499.6,1542.9 499.6,1541.4 499.6,1539.9 499.6,1538.4 499.6,1536.8 499.6,1535.3 499.6,1533.8 499.6,1532.3 499.6,1530.8 499.7,1529.4 499.7,1527.9 499.7,1526.4 499.7,1524.9 499.7,1523.5 499.7,1522 499.7,1520.5 499.7,1519.1 499.7,1517.6 499.7,1516.1 499.7,1514.7 499.7,1513.2 499.7,1511.7 499.7,1510.3 499.8,1508.8 499.8,1507.3 499.8,1505.9 499.8,1504.4 499.8,1502.9 499.8,1501.5 499.8,1500 499.8,1498.5 499.8,1497 499.8,1495.5 499.9,1494 499.9,1492.5 499.9,1491 499.9,1489.5 499.9,1488 499.9,1486.5 499.9,1485 499.9,1483.4 499.9,1481.9 500,1480.3 500,1478.8 500,1477.2 500,1475.6 500,1474.1 500,1472.5 500,1470.9 500,1469.3 500,1467.7 500,1466.1 500.1,1464.5 500.1,1462.9 500.1,1461.3 500.1,1459.7 500.1,1458.2 500.1,1456.6 500.1,1455 500.1,1453.4 500.1,1451.8 500.1,1450.2 500.2,1448.6 500.2,1447 500.2,1445.5 500.2,1443.9 500.2,1442.3 500.2,1440.8 500.2,1439.2 500.3,1437.7 500.3,1436.2 500.3,1434.6 500.3,1433.1 500.3,1431.6 500.3,1430.1 500.4,1428.6 500.4,1427.2 500.4,1425.7 500.4,1424.3 500.5,1422.9 500.5,1421.4 500.5,1420 500.5,1418.7 500.6,1417.3 500.6,1415.9 500.6,1414.6 500.7,1413.3 500.7,1412 500.7,1410.3 500.8,1408.5 500.8,1406.8 500.9,1405 500.9,1403.3 501,1401.6 501,1399.9 501,1398.3 501.1,1396.6 501.1,1395 501.2,1393.3 501.2,1391.7 501.3,1390.1 501.3,1388.6 501.4,1387 501.4,1385.5 501.5,1384 501.6,1382.6 501.6,1381.2 501.7,1379.8 501.8,1378.4 501.9,1377.1 502,1375.8 502.1,1374.5 502.2,1373.3 502.4,1372.1 502.5,1371 502.8,1369 503.1,1366.8 503.4,1364.7 503.8,1362.7 504.1,1360.9 504.5,1359.3 504.8,1358.1 505.2,1357.3 505.5,1357 505.8,1357.2 506,1357.9 506.3,1358.8 506.5,1360.1 506.8,1361.6 507,1363.4 507.2,1365.2 507.5,1367.2 507.7,1369.2 507.9,1371.2 508.1,1373.2 508.3,1375 508.4,1376.3 508.6,1377.6 508.7,1379 508.8,1380.4 508.9,1381.8 509,1383.2 509,1384.7 509.1,1386.2 509.2,1387.7 509.3,1389.3 509.3,1390.8 509.4,1392.4 509.5,1394 509.6,1395.6 509.6,1397.3 509.7,1398.9 509.8,1400.5 509.9,1402.2 510,1403.8 510.1,1405.5 510.2,1407.1 510.3,1408.7 510.4,1410.4 510.5,1412 510.6,1413.5 510.7,1414.9 510.9,1416.4 511,1417.9 511.1,1419.4 511.3,1420.9 511.4,1422.4 511.5,1423.9 511.7,1425.4 511.8,1427 512,1428.5 512.1,1430 512.3,1431.6 512.4,1433.1 512.6,1434.7 512.7,1436.3 512.9,1437.8 513,1439.4 513.2,1440.9 513.4,1442.5 513.5,1444.1 513.7,1445.6 513.9,1447.2 514,1448.7 514.2,1450.3 514.4,1451.8 514.6,1453.4 514.7,1454.9 514.9,1456.5 515.1,1458 515.3,1459.5 515.5,1461.1 515.6,1462.7 515.8,1464.2 516,1465.8 516.1,1467.4 516.3,1469 516.5,1470.5 516.6,1472.1 516.8,1473.7 517,1475.3 517.2,1476.9 517.3,1478.5 517.5,1480.1 517.7,1481.7 517.9,1483.2 518.1,1484.8 518.3,1486.4 518.5,1487.9 518.7,1489.4 518.9,1491 519.1,1492.5 519.4,1494 519.6,1495.5 519.9,1496.9 520.1,1498.4 520.4,1499.8 520.6,1501.2 520.9,1502.6 521.2,1504 521.6,1505.7 521.9,1507.3 522.3,1509 522.7,1510.6 523,1512.2 523.4,1513.8 523.8,1515.4 524.2,1517 524.6,1518.5 525,1520 525.5,1521.5 525.9,1523 526.4,1524.5 526.9,1525.9 527.4,1527.3 527.9,1528.7 528.5,1530.1 529.1,1531.4 529.7,1532.7 530.3,1534 531,1535.4 531.8,1536.8 532.6,1538.2 533.3,1539.6 534.1,1540.9 535,1542.2 535.8,1543.5 536.7,1544.8 537.6,1546 538.6,1547.1 539.6,1548.2 540.6,1549.2 541.7,1550.2 542.8,1551.1 544,1552 545.3,1552.8 546.6,1553.5 547.9,1554.2 549.3,1554.7 550.8,1555.3 552.2,1555.7 553.8,1556.2 555.3,1556.5 556.9,1556.9 558.5,1557.2 560.1,1557.5 561.8,1557.7 563.5,1558 565.1,1558.3 566.8,1558.5 568.2,1558.7 569.6,1558.8 571,1559 572.4,1559.1 573.8,1559.2 575.3,1559.2 576.8,1559.3 578.2,1559.3 579.7,1559.3 581.3,1559.3 582.8,1559.3 584.3,1559.2 585.9,1559.2 587.4,1559.2 589,1559.1 590.5,1559.1 592.1,1559.1 593.7,1559 595.3,1559 596.8,1559 598.4,1559 600,1559 601.4,1559 602.8,1559 604.1,1559 605.4,1559 606.7,1559 607.9,1559 609.1,1559 610.4,1559 611.6,1559 612.8,1559 614,1559 615.3,1559 616.6,1559 617.9,1559 619.3,1559 620.7,1559 622.2,1559 623.8,1559 625.5,1559 627.2,1559 629,1559 631,1559 633.1,1559 635.2,1559 637.6,1559 640,1559 640.5,1559 641.1,1559 641.7,1559 642.2,1559 642.8,1559 643.4,1559 644,1559 644.6,1559 645.2,1559 645.8,1559 646.4,1559 647,1559 647.6,1559 648.3,1559 648.9,1559 649.6,1559 650.2,1559 650.9,1559 651.5,1559 652.2,1559 652.9,1559 653.6,1559 654.3,1559 655,1559 655.7,1559 656.4,1559 657.1,1559 657.8,1559 658.6,1559 659.3,1559 660.1,1559 660.8,1559 661.6,1559 662.3,1559 663.1,1559 663.9,1559 664.7,1559 665.5,1559 666.3,1559 667.1,1559 667.9,1559 668.7,1559 669.5,1559 670.3,1559 671.2,1559 672,1559 672.9,1559 673.7,1559 674.6,1559 675.4,1559 676.3,1559 677.2,1559 678.1,1559 679,1559 679.8,1559 680.7,1559 681.7,1559 682.6,1559 683.5,1559 684.4,1559 685.3,1559 686.3,1559 687.2,1559 688.2,1559 689.1,1559 690.1,1559 691,1559 692,1559 693,1559 694,1559 695,1559 695.9,1559 696.9,1559 697.9,1559 699,1559 700,1559 701,1559 702,1559 703,1559 704.1,1559 705.1,1559 706.2,1559 707.2,1559 708.3,1559 709.4,1559 710.4,1559 711.5,1559 712.6,1559 713.7,1559 714.8,1559 715.9,1559 717,1559 718.1,1559 719.2,1559 720.3,1559 721.4,1559 722.5,1559 723.7,1559 724.8,1559 725.9,1559 727.1,1559 728.3,1559 729.4,1559 730.6,1559 731.7,1559 732.9,1559 734.1,1559 735.3,1559 736.5,1559 737.7,1559 738.8,1559 740.1,1559 741.3,1559 742.5,1559 743.7,1559 744.9,1559 746.1,1559 747.4,1559 748.6,1559 749.8,1559 751.1,1559 752.3,1559 753.6,1559 754.9,1559 756.1,1559 757.4,1559 758.7,1559 759.9,1559 761.2,1559 762.5,1559 763.8,1559 765.1,1559 766.4,1559 767.7,1559 769,1559 770.3,1559 771.6,1559 773,1559 774.3,1559 775.6,1559 777,1559 778.3,1559 779.6,1559 781,1559 782.3,1559 783.7,1559 785.1,1559 786.4,1559 787.8,1559 789.2,1559 790.5,1559 791.9,1559 793.3,1559 794.7,1559 796.1,1559 797.5,1559 798.9,1559 800.3,1559 801.7,1559 803.1,1559 804.5,1559 806,1559 807.4,1559 808.8,1559 810.2,1559 811.7,1559 813.1,1559 814.6,1559 816,1559 817.5,1559 818.9,1559 820.4,1559 821.8,1559 823.3,1559 824.8,1559 826.3,1559 827.7,1559 829.2,1559 830.7,1559 832.2,1559 833.7,1559 835.2,1559 836.7,1559 838.2,1559 839.7,1559 841.2,1559 842.7,1559 844.2,1559 845.7,1559 847.3,1559 848.8,1559 850.3,1559 851.9,1559 853.4,1559 854.9,1559 856.5,1559 858,1559 859.6,1559 861.1,1559 862.7,1559 864.2,1559 865.8,1559 867.4,1559 868.9,1559 870.5,1559 872.1,1559 873.7,1559 875.2,1559 876.8,1559 878.4,1559 880,1559 881.6,1559 883.2,1559 884.8,1559 886.4,1559 888,1559 889.6,1559 891.2,1559 892.8,1559 894.4,1559 896.1,1559 897.7,1559 899.3,1559 900.9,1559 902.6,1559 904.2,1559 905.8,1559 907.5,1559 909.1,1559 910.7,1559 912.4,1559 914,1559 915.7,1559 917.3,1559 919,1559 920.7,1559 922.3,1559 924,1559 925.6,1559 927.3,1559 929,1559 930.7,1559 932.3,1559 934,1559 935.7,1559 937.4,1559 939.1,1559 940.7,1559 942.4,1559 944.1,1559 945.8,1559 947.5,1559 949.2,1559 950.9,1559 952.6,1559 954.3,1559 956,1559 957.7,1559 959.4,1559 961.1,1559 962.9,1559 964.6,1559 966.3,1559 968,1559 969.7,1559 971.5,1559 973.2,1559 974.9,1559 976.6,1559 978.4,1559 980.1,1559 981.8,1559 983.6,1559 985.3,1559 987.1,1559 988.8,1559 990.5,1559 992.3,1559 994,1559 995.8,1559 997.5,1559 999.3,1559 1001,1559 1002.8,1559 1004.6,1559 1006.3,1559 1008.1,1559 1009.8,1559 1011.6,1559 1013.4,1559 1015.1,1559 1016.9,1559 1018.7,1559 1020.4,1559 1022.2,1559 1024,1559 1025.8,1559 1027.5,1559 1029.3,1559 1031.1,1559 1032.9,1559 1034.7,1559 1036.4,1559 1038.2,1559 1040,1559 1041.8,1559 1043.6,1559 1045.4,1559 1047.2,1559 1048.9,1559 1050.7,1559 1052.5,1559 1054.3,1559 1056.1,1559 1057.9,1559 1059.7,1559 1061.5,1559 1063.3,1559 1065.1,1559 1066.9,1559 1068.7,1559 1070.5,1559 1072.3,1559 1074.1,1559 1075.9,1559 1077.7,1559 1079.5,1559 1081.3,1559 1083.1,1559 1084.9,1559 1086.8,1559 1088.6,1559 1090.4,1559 1092.2,1559 1094,1559 1095.8,1559 1097.6,1559 1099.4,1559 1101.2,1559 1103.1,1559 1104.9,1559 1106.7,1559 1108.5,1559 1110.3,1559 1112.1,1559 1114,1559 1115.8,1559 1117.6,1559 1119.4,1559 1121.2,1559 1123,1559 1124.9,1559 1126.7,1559 1128.5,1559 1130.3,1559 1132.1,1559 1134,1559 1135.8,1559 1137.6,1559 1139.4,1559 1141.2,1559 1143.1,1559 1144.9,1559 1146.7,1559 1148.5,1559 1150.3,1559 1152.2,1559 1154,1559 1155.8,1559 1157.6,1559 1159.4,1559 1161.3,1559 1163.1,1559 1164.9,1559 1166.7,1559 1168.5,1559 1170.4,1559 1172.2,1559 1174,1559 1175.8,1559 1177.6,1559 1179.5,1559 1181.3,1559 1183.1,1559 1184.9,1559 1186.7,1559 1188.5,1559 1190.4,1559 1192.2,1559 1194,1559 1195.8,1559 1197.6,1559 1199.4,1559 1201.2,1559 1203.1,1559 1204.9,1559 1206.7,1559 1208.5,1559 1210.3,1559 1212.1,1559 1213.9,1559 1215.7,1559 1217.5,1559 1219.3,1559 1221.1,1559 1223,1559 1224.8,1559 1226.6,1559 1228.4,1559 1230.2,1559 1232,1559 1233.8,1559 1235.6,1559 1237.4,1559 1239.2,1559 1241,1559 1242.8,1559 1244.6,1559 1246.4,1559 1248.1,1559 1249.9,1559 1251.7,1559 1253.5,1559 1255.3,1559 1257.1,1559 1258.9,1559 1260.7,1559 1262.5,1559 1264.2,1559 1266,1559 1267.8,1559 1269.6,1559 1271.4,1559 1273.1,1559 1274.9,1559 1276.7,1559 1278.5,1559 1280.2,1559 1282,1559 1283.8,1559 1285.5,1559 1287.3,1559 1289.1,1559 1290.8,1559 1292.6,1559 1294.4,1559 1296.1,1559 1297.9,1559 1299.6,1559 1301.4,1559 1303.1,1559 1304.9,1559 1306.6,1559 1308.4,1559 1310.1,1559 1311.9,1559 1313.6,1559 1315.4,1559 1317.1,1559 1318.8,1559 1320.6,1559 1322.3,1559 1324,1559 1325.8,1559 1327.5,1559 1329.2,1559 1330.9,1559 1332.7,1559 1334.4,1559 1336.1,1559 1337.8,1559 1339.5,1559 1341.2,1559 1342.9,1559 1344.7,1559 1346.4,1559 1348.1,1559 1349.8,1559 1351.5,1559 1353.2,1559 1354.9,1559 1356.6,1559 1358.2,1559 1359.9,1559 1361.6,1559 1363.3,1559 1365,1559 1366.7,1559 1368.3,1559 1370,1559 1371.7,1559 1373.4,1559 1375,1559 1376.7,1559 1378.4,1559 1380,1559 1381.7,1559 1383.3,1559 1385,1559 1386.6,1559 1388.3,1559 1389.9,1559 1391.6,1559 1393.2,1559 1394.8,1559 1396.5,1559 1398.1,1559 1399.7,1559 1401.4,1559 1403,1559 1404.6,1559 1406.2,1559 1407.9,1559 1409.5,1559 1411.1,1559 1412.7,1559 1414.3,1559 1415.9,1559 1417.5,1559 1419.1,1559 1420.7,1559 1422.3,1559 1423.9,1559 1425.4,1559 1427,1559 1428.6,1559 1430.2,1559 1431.7,1559 1433.3,1559 1434.9,1559 1436.4,1559 1438,1559 1439.6,1559 1441.1,1559 1442.7,1559 1444.2,1559 1445.7,1559 1447.3,1559 1448.8,1559 1450.4,1559 1451.9,1559 1453.4,1559 1454.9,1559 1456.5,1559 1458,1559 1459.5,1559 1461,1559 1462.5,1559 1464,1559" fill="none" stroke="#0d0d0d" stroke-width="6.6" stroke-dasharray="16.5 3.8" stroke-linejoin="round"/>
<rect x="286.4" y="1229.9" width="1178" height="878.1" fill="none" stroke="#231f20" stroke-width="3"/>
<g stroke="#231f20" stroke-width="2.2"><line x1="454.7" y1="2108" x2="454.7" y2="2096.5"/><line x1="454.7" y1="1229.9" x2="454.7" y2="1241.4"/><line x1="623" y1="2108" x2="623" y2="2096.5"/><line x1="623" y1="1229.9" x2="623" y2="1241.4"/><line x1="791.3" y1="2108" x2="791.3" y2="2096.5"/><line x1="791.3" y1="1229.9" x2="791.3" y2="1241.4"/><line x1="959.6" y1="2108" x2="959.6" y2="2096.5"/><line x1="959.6" y1="1229.9" x2="959.6" y2="1241.4"/><line x1="1127.8" y1="2108" x2="1127.8" y2="2096.5"/><line x1="1127.8" y1="1229.9" x2="1127.8" y2="1241.4"/><line x1="1296.1" y1="2108" x2="1296.1" y2="2096.5"/><line x1="1296.1" y1="1229.9" x2="1296.1" y2="1241.4"/><line x1="286.4" y1="1230.1" x2="297.9" y2="1230.1"/><line x1="1464.4" y1="1230.1" x2="1452.9" y2="1230.1"/><line x1="286.4" y1="1339.8" x2="297.9" y2="1339.8"/><line x1="1464.4" y1="1339.8" x2="1452.9" y2="1339.8"/><line x1="286.4" y1="1449.5" x2="297.9" y2="1449.5"/><line x1="1464.4" y1="1449.5" x2="1452.9" y2="1449.5"/><line x1="286.4" y1="1559.2" x2="297.9" y2="1559.2"/><line x1="1464.4" y1="1559.2" x2="1452.9" y2="1559.2"/><line x1="286.4" y1="1668.9" x2="297.9" y2="1668.9"/><line x1="1464.4" y1="1668.9" x2="1452.9" y2="1668.9"/><line x1="286.4" y1="1778.6" x2="297.9" y2="1778.6"/><line x1="1464.4" y1="1778.6" x2="1452.9" y2="1778.6"/><line x1="286.4" y1="1888.3" x2="297.9" y2="1888.3"/><line x1="1464.4" y1="1888.3" x2="1452.9" y2="1888.3"/><line x1="286.4" y1="1998" x2="297.9" y2="1998"/><line x1="1464.4" y1="1998" x2="1452.9" y2="1998"/><line x1="286.4" y1="2107.7" x2="297.9" y2="2107.7"/><line x1="1464.4" y1="2107.7" x2="1452.9" y2="2107.7"/></g>
<rect x="843.3" y="1251.3" width="607.2" height="174.9" fill="#fff" stroke="#231f20" stroke-width="2.6"/>
<line x1="871" y1="1283" x2="951" y2="1283" stroke="#d7242b" stroke-width="6" stroke-dasharray="6 4.4"/>
<line x1="871" y1="1333.2" x2="951" y2="1333.2" stroke="#3050a8" stroke-width="6.5"/>
<line x1="871" y1="1391.9" x2="951" y2="1391.9" stroke="#0d0d0d" stroke-width="6.5" stroke-dasharray="16.5 4"/>
<text transform="translate(956,1295.8) scale(1,1.04)" font-size="52" text-anchor="start">Passive</text>
<text transform="translate(956,1350.9) scale(1,1.04)" font-size="52" text-anchor="start">Adaptive backstepping</text>
<text transform="translate(956,1405.4) scale(1,1.04)" font-size="52" text-anchor="start">Skyhook</text>
<text transform="translate(265.5,1247.6) scale(1,1.04)" font-size="52" text-anchor="end">0.6</text>
<text transform="translate(265.5,1357.3) scale(1,1.04)" font-size="52" text-anchor="end">0.4</text>
<text transform="translate(265.5,1467) scale(1,1.04)" font-size="52" text-anchor="end">0.2</text>
<text transform="translate(265.5,1576.7) scale(1,1.04)" font-size="52" text-anchor="end">0</text>
<text transform="translate(265.5,1686.4) scale(1,1.04)" font-size="52" text-anchor="end">−0.2</text>
<text transform="translate(265.5,1796.1) scale(1,1.04)" font-size="52" text-anchor="end">−0.4</text>
<text transform="translate(265.5,1905.8) scale(1,1.04)" font-size="52" text-anchor="end">−0.6</text>
<text transform="translate(265.5,2015.5) scale(1,1.04)" font-size="52" text-anchor="end">−0.8</text>
<text transform="translate(265.5,2125.2) scale(1,1.04)" font-size="52" text-anchor="end">−1.0</text>
<text transform="translate(286.4,2163.5) scale(1,1.04)" font-size="52" text-anchor="middle">0</text>
<text transform="translate(454.7,2163.5) scale(1,1.04)" font-size="52" text-anchor="middle">1</text>
<text transform="translate(623,2163.5) scale(1,1.04)" font-size="52" text-anchor="middle">2</text>
<text transform="translate(791.3,2163.5) scale(1,1.04)" font-size="52" text-anchor="middle">3</text>
<text transform="translate(959.6,2163.5) scale(1,1.04)" font-size="52" text-anchor="middle">4</text>
<text transform="translate(1127.8,2163.5) scale(1,1.04)" font-size="52" text-anchor="middle">5</text>
<text transform="translate(1296.1,2163.5) scale(1,1.04)" font-size="52" text-anchor="middle">6</text>
<text transform="translate(1464.4,2163.5) scale(1,1.04)" font-size="52" text-anchor="middle">7</text>
<text transform="translate(874,2220.7) scale(1,1.04)" font-size="51.5" text-anchor="middle">Time (s)</text>
<text transform="translate(874.5,2286.7) scale(1,1.04)" font-size="51.5" text-anchor="middle">(b)</text>
<text transform="translate(138.8,1667.3) rotate(-90) scale(1,1.04)" font-size="51.5" text-anchor="middle">Pitch acceleration (rad/s<tspan font-size="30" dy="-17">2</tspan><tspan dy="17">)</tspan></text>
</svg></body></html>
